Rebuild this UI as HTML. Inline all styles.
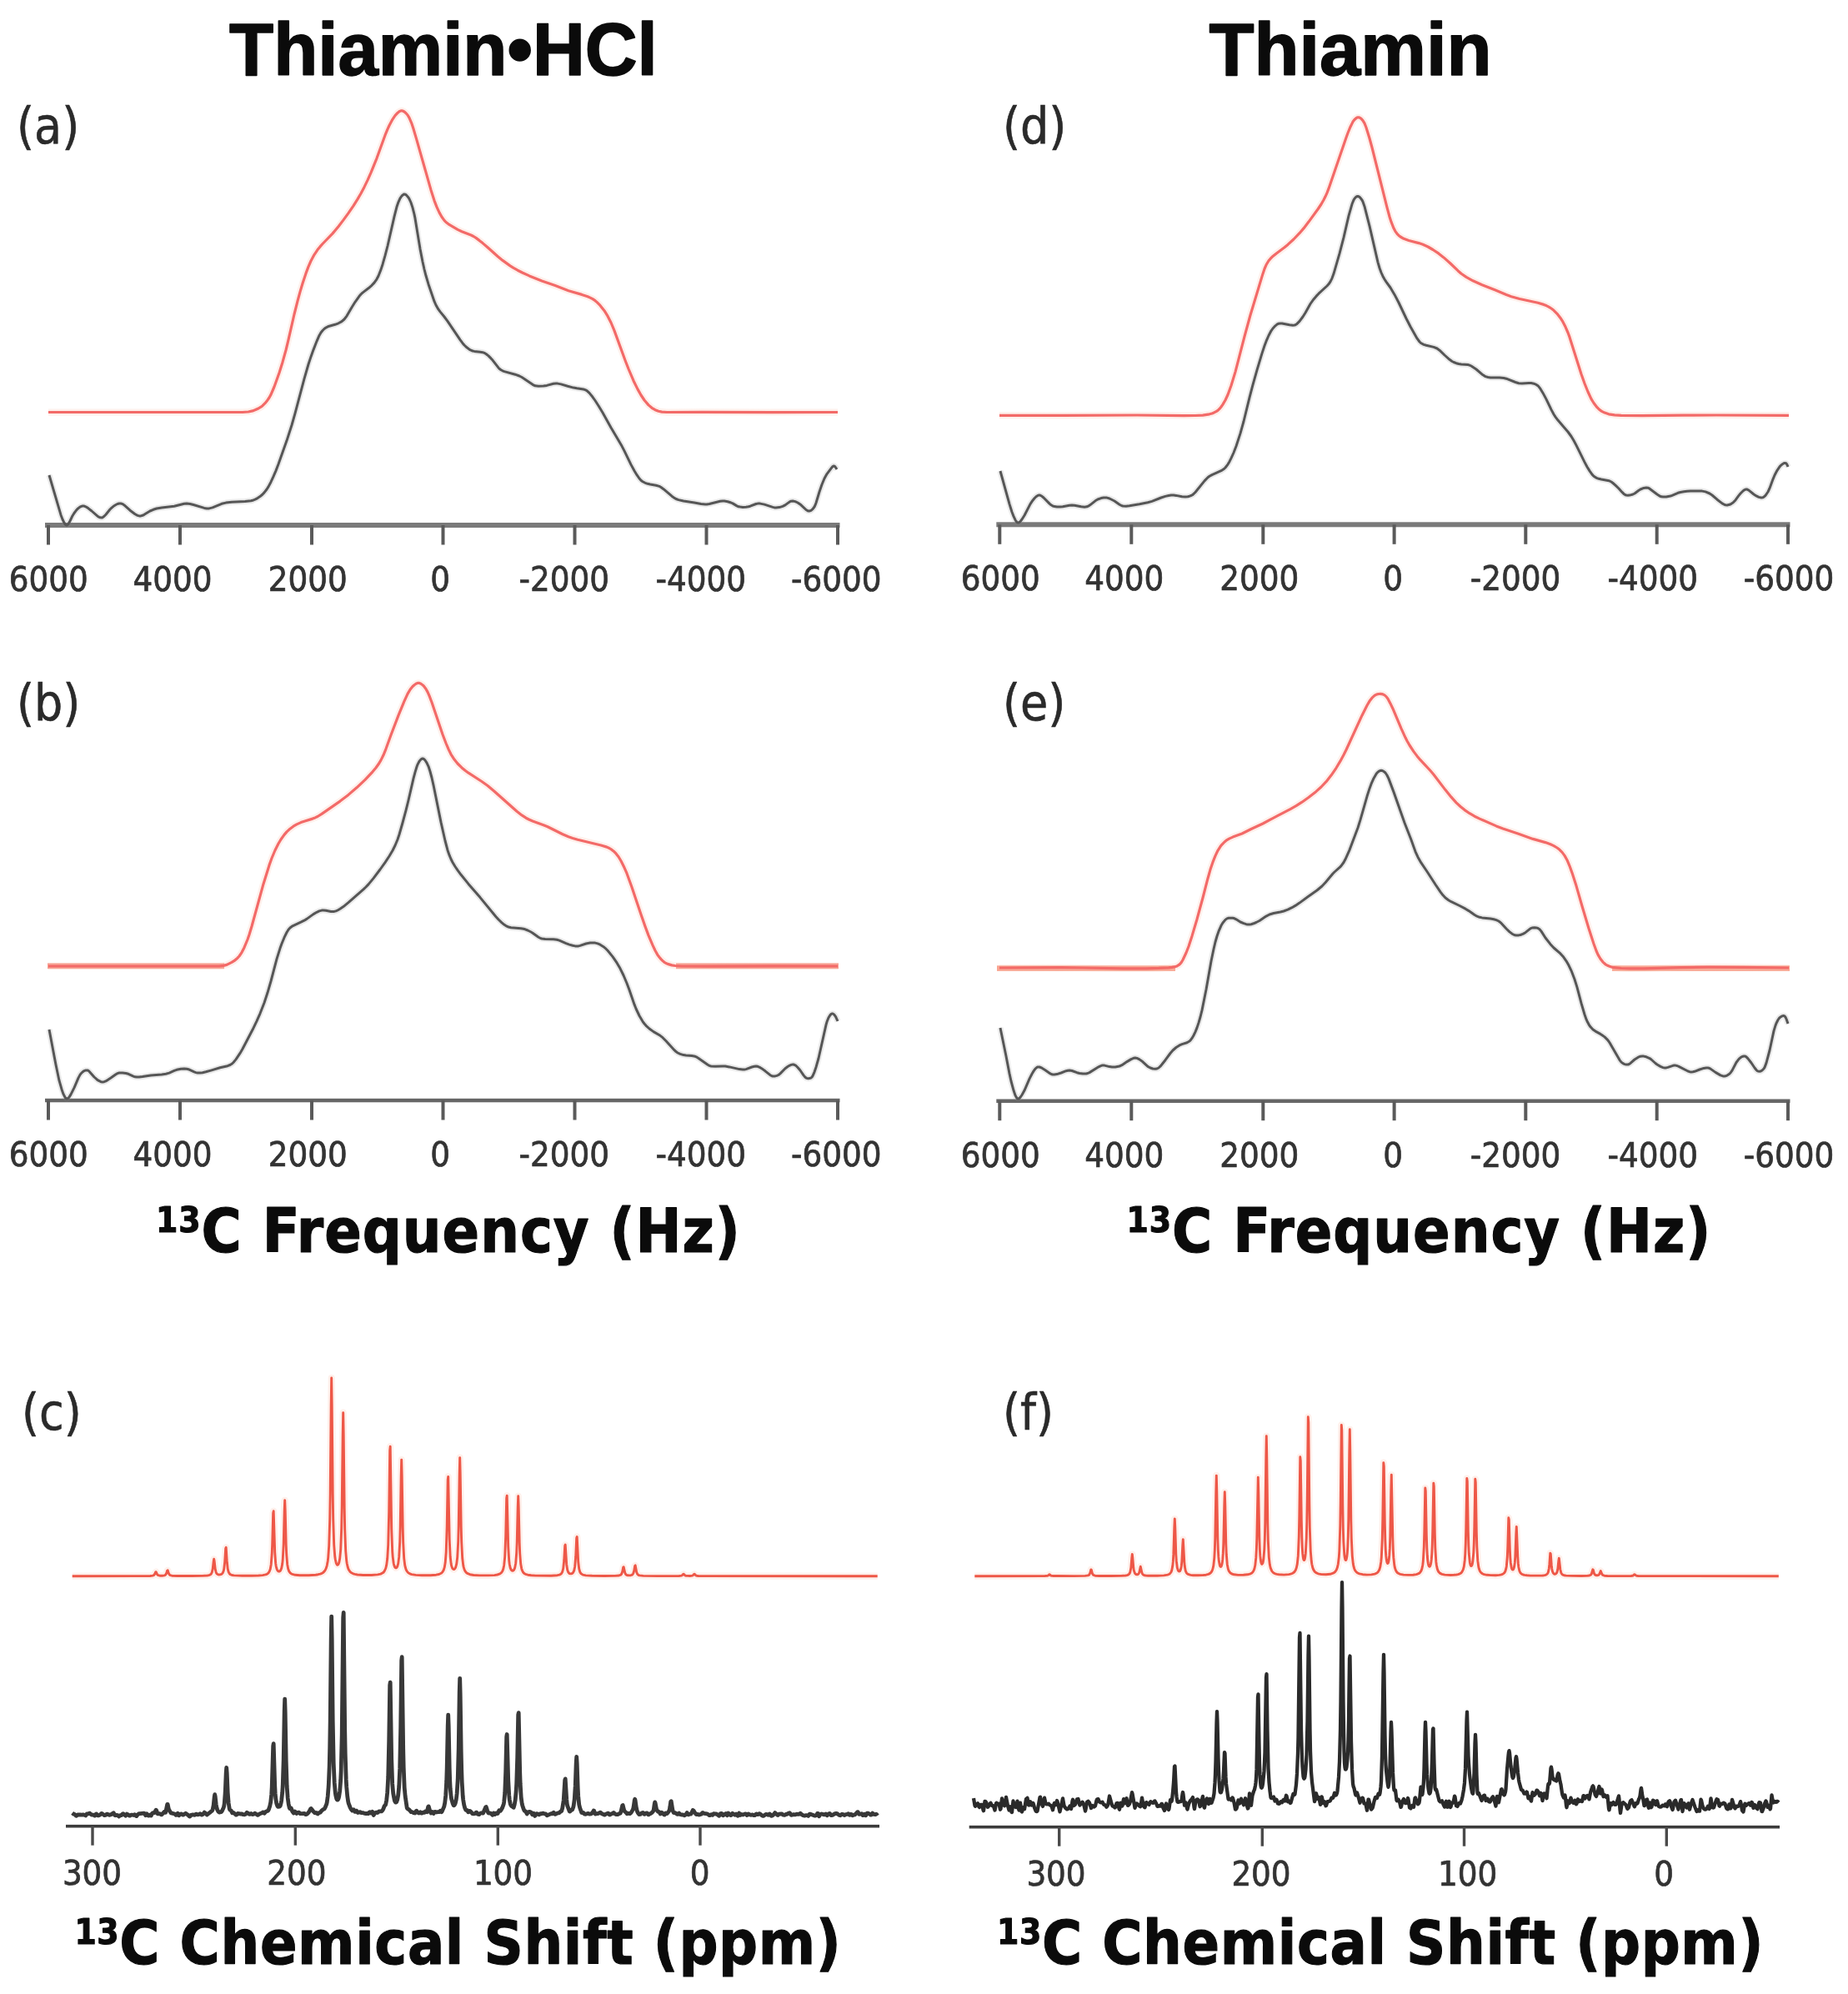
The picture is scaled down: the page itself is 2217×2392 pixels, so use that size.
<!DOCTYPE html>
<html lang="en"><head><meta charset="utf-8"><title>Thiamin 13C NMR spectra</title>
<style>
html,body{margin:0;padding:0;background:#fff}
svg{display:block;filter:blur(.55px)}
.title{font-family:"Liberation Sans",sans-serif;font-weight:700;fill:#0b0b0b;stroke:#0b0b0b;stroke-width:1.6;stroke-linejoin:round}
.axl{font-family:"DejaVu Sans Condensed","DejaVu Sans","Liberation Sans",sans-serif;font-stretch:condensed;font-weight:700;fill:#0b0b0b;stroke:#0b0b0b;stroke-width:1.1;stroke-linejoin:round}
.tk{font-family:"DejaVu Sans Condensed","DejaVu Sans","Liberation Sans",sans-serif;font-stretch:condensed;font-size:41.5px;fill:#333;stroke:#333;stroke-width:.7}
.pl{font-family:"DejaVu Sans Condensed","DejaVu Sans","Liberation Sans",sans-serif;font-stretch:condensed;font-size:60px;fill:#2a2a2a;stroke:#2a2a2a;stroke-width:.6}
.r{fill:none;stroke:#f36a68;stroke-width:3.2;stroke-linejoin:round;stroke-linecap:butt}
.rh{fill:none;stroke:#f9b9a6;stroke-opacity:.22;stroke-width:8;stroke-linejoin:round}
.k{fill:none;stroke:#565656;stroke-width:3.0;stroke-linejoin:round;stroke-linecap:butt}
.kh{fill:none;stroke:#888;stroke-opacity:.18;stroke-width:7;stroke-linejoin:round}
</style></head><body>
<svg width="2217" height="2392" viewBox="0 0 2217 2392">
<rect width="2217" height="2392" fill="#fff"/>
<rect x="54.0" y="627.0" width="953.5" height="6" fill="#7a7a7a"/>
<rect x="56.0" y="630.0" width="4" height="23.5" fill="#5a5a5a"/>
<rect x="214.0" y="630.0" width="4" height="23.5" fill="#5a5a5a"/>
<rect x="372.0" y="630.0" width="4" height="23.5" fill="#5a5a5a"/>
<rect x="529.5" y="630.0" width="4" height="23.5" fill="#5a5a5a"/>
<rect x="687.5" y="630.0" width="4" height="23.5" fill="#5a5a5a"/>
<rect x="845.5" y="630.0" width="4" height="23.5" fill="#5a5a5a"/>
<rect x="1003.0" y="630.0" width="4" height="23.5" fill="#5a5a5a"/>
<text class="tk" x="58.3" y="708.8" text-anchor="middle">6000</text>
<text class="tk" x="207.0" y="708.8" text-anchor="middle">4000</text>
<text class="tk" x="369.2" y="708.8" text-anchor="middle">2000</text>
<text class="tk" x="528.0" y="708.8" text-anchor="middle">0</text>
<text class="tk" x="676.7" y="708.8" text-anchor="middle">-2000</text>
<text class="tk" x="840.8" y="708.8" text-anchor="middle">-4000</text>
<text class="tk" x="1003.3" y="708.8" text-anchor="middle">-6000</text>
<defs><path id="p1" d="M58 494.5L291 494.5L298 494L303 492.9L306 491.8L310 490L313 488.2L315 486.7L318 483.7L320 481.3L323 477L325 473.4L329 464L335 447.2L339 434.4L343 420L346 407.7L353 377L357 361.1L360 350.1L363 340L367 327.9L370 319.9L373 313L377 305.6L381 299.6L384 295.9L387 292.5L399 280.1L406 271.8L412 263.9L418 255.6L424 246.8L429 238.9L433 232L437 224.4L441 216.1L445 207.1L452 189.8L462 162.2L465 154.8L467 150.5L471 143.1L474 138.7L477 135.4L479 133.8L481 132.9L482 132.8L483 133L485 134L487 135.7L489 138L491 141.3L494 148.4L496 154.5L500 168.1L517 227.9L521 240.6L524 248.4L527 254.9L530 260.3L533 264.4L535 266.5L538 268.8L549 275.4L554 277.8L565 282L568 283.5L571 285.4L575 288.4L579 291.6L585 296.7L597 307.5L603 312.4L612 318.9L616 321.4L621 324.2L627 327.2L635 330.9L650 337L666 342.6L682 348.7L698 353.4L705 355.8L708 357.1L711 358.7L714 360.7L716 362.4L720 366.4L725 372.7L729 379.2L733 387L737 396.6L750 432.2L754 442.5L760 456.7L765 466.9L769 474L773 480L778 485.9L782 489.3L786 491.7L790 493.3L794 494.1L800 494.5L842 494.3L927 494.6L1005 494.5"/></defs><use href="#p1" class="rh"/><use href="#p1" class="r"/>
<defs><path id="p2" d="M59 570L73 617.7L75 623L77 627.1L78 628.6L79 629.6L80 630L81 629.6L82 628.5L84 625L87 618.7L89 615.5L91 612.8L93 610.5L95 608.8L97 607.6L99 607L101 607.1L104 608.4L106 609.8L110 613L117 619.2L119 620.4L120 620.8L122 621L123 620.7L125 619.3L127 617.2L132 611L134 609.1L137 606.7L139 605.5L141 604.5L143 604L145 604L147 604.6L149 605.9L156 612.2L162 616.8L165 618.4L167 618.9L168 619L169 618.9L171 618.3L173 617.3L180 613L184 611.3L188 610L194 608.9L209 607.2L221 604.2L224 604L228 604.5L232 605.5L245 609.4L248 609.9L251 609.9L255 608.9L266 604.3L271 603.1L278 602.3L294 601.6L301 600.8L303 600.3L306 599.1L309 597.6L312 595.6L315 593L317 590.9L320 587L322 583.9L325 578.2L328 571.7L331 564.6L334 556.8L344 528.6L350 510L354 495.8L365 454.3L370 437L373 427.9L376 419.6L380 409.3L383 402.4L385 399L387 396.5L389 394.5L391 393.1L393 392L395 391.2L402 389.3L406 387.8L410 385.6L413 383L416 379.1L422 368.7L426 362.3L431 355.3L433 353L435 351.1L442 345.8L446 342.3L449 339.1L452 334.8L454 331L457 323.4L459 317.2L462 306.7L465 295L473 259.8L476 248.1L478 242.3L480 237.9L482 235L484 233.3L485 233L486 233.2L487 233.7L488 234.6L490 237L491 238.6L493 243L495 249.1L497 257L498 261.9L504 298.6L507 314L509 323L511 330.8L514 340.9L521 361.4L523 366L526 371.2L528 373.9L533 380L537 385.4L552 407.6L555 411.7L557 414L560 416.8L563 419.1L565 420.2L567 421L569 421.4L576 422.2L579 422.7L581 423.4L583 424.5L586 426.9L589 429.9L591 432.1L598 441.2L599 442.2L601 443.7L603 444.8L605 445.6L618 449.2L623 451L626 452.5L629 454.4L639 461.3L642 462.8L646 463.3L652 463.1L656 462.4L664 460.3L667 460L669 460.1L673 460.9L681 463.3L688 465.1L692 465.8L700 467L702 467.6L704 468.6L707 471.4L711 476.3L714 480.5L718 486.7L723 495.1L733 513L746 535.1L749 540.9L757 557.4L761 564.7L764 569.7L767 574L769 576.2L771 577.7L774 579.3L777 580.3L780 581L787 582.2L791 583.4L793 584.5L796 586.7L806 595.2L809 597.4L811 598.5L814 599.6L820 601L833 603L841 604.5L846 605L848 604.9L851 604.5L864 601.3L867 601L869 601.1L873 601.7L877 603L879 603.9L884 606.9L886 607.8L888 608.1L891 608.4L895 608.2L898 607.8L900 607.2L907 604.5L909 604.1L912 604.1L917 605.1L927 608.4L929 608.9L931 609L935 608.6L939 607.4L942 605.9L946 602.9L948 601.6L949 601.2L951 601L954 601.6L957 603L961 605.8L967 611.5L969 612.7L970 613L971 613L973 612.4L975 610.7L977 608L978 605.9L979 603.2L983 590L986 581.3L989 574L992 568.6L998 560.7L999 559.5L1000 559L1001 559.2L1002 560L1004 563"/></defs><use href="#p2" class="kh"/><use href="#p2" class="k"/>
<rect x="54.0" y="1317.8" width="953.5" height="4.5" fill="#666"/>
<rect x="56.0" y="1320.0" width="4" height="23.5" fill="#5a5a5a"/>
<rect x="214.0" y="1320.0" width="4" height="23.5" fill="#5a5a5a"/>
<rect x="372.0" y="1320.0" width="4" height="23.5" fill="#5a5a5a"/>
<rect x="529.5" y="1320.0" width="4" height="23.5" fill="#5a5a5a"/>
<rect x="687.5" y="1320.0" width="4" height="23.5" fill="#5a5a5a"/>
<rect x="845.5" y="1320.0" width="4" height="23.5" fill="#5a5a5a"/>
<rect x="1003.0" y="1320.0" width="4" height="23.5" fill="#5a5a5a"/>
<text class="tk" x="58.3" y="1398.8" text-anchor="middle">6000</text>
<text class="tk" x="207.0" y="1398.8" text-anchor="middle">4000</text>
<text class="tk" x="369.2" y="1398.8" text-anchor="middle">2000</text>
<text class="tk" x="528.0" y="1398.8" text-anchor="middle">0</text>
<text class="tk" x="676.7" y="1398.8" text-anchor="middle">-2000</text>
<text class="tk" x="840.8" y="1398.8" text-anchor="middle">-4000</text>
<text class="tk" x="1003.3" y="1398.8" text-anchor="middle">-6000</text>
<rect x="57" y="1155.4" width="212" height="6.8" fill="#f7a193"/><rect x="811" y="1155.4" width="195" height="6.8" fill="#f7a193"/>
<defs><path id="p3" d="M58 1159L263 1159L268 1158.4L272 1157.4L278 1154.4L282 1151.8L285 1149.2L287 1147L290 1142.6L293 1136.7L297 1127L299 1121.2L302 1111.2L316 1060.4L323 1037.9L326 1029.5L330 1020L334 1012L337 1007L341 1001.4L344 997.9L348 994.2L352 991.2L356 988.9L361 986.6L365 985.2L375 982.1L378 980.9L381 979.5L386 976.4L408 961.1L418 953.4L428 944.8L438 935.4L447 925.8L451 921L454 916.8L457 911.9L460 905.8L463 898.3L469 881.8L478 858.1L485 841.1L489 832.4L492 827.3L495 823.5L497 821.7L499 820.3L501 819.4L502 819.3L503 819.4L505 820.3L507 821.7L508 822.6L511 826.5L513 830.1L515 834.6L518 842.5L531 881L535 891.5L538 898.6L541 904.8L545 911.1L549 916L554 920.9L558 924.2L562 927.2L578 937.5L585 942.5L593 949.2L620 973.2L626 977.9L631 981.2L635 983.2L639 985L652 989.7L657 991.7L675 1000.8L682 1003.8L687 1005.5L693 1007.2L721 1014L728 1016.1L731 1017.5L734 1019.4L737 1021.8L739 1023.9L742 1027.7L745 1032.7L749 1040.8L752 1047.7L758 1064.2L769 1097.1L774 1111.4L778 1122.1L783 1133.9L786 1140.3L789 1145.6L791 1148.3L793 1150.6L795 1152.6L797 1154.3L799 1155.5L801 1156.4L806 1157.9L810 1158.5L818 1159L850 1159.2L929 1158.9L1005 1159"/></defs><use href="#p3" class="rh"/><use href="#p3" class="r"/>
<defs><path id="p4" d="M59 1235L67 1277.3L71 1296.2L74 1306.7L76 1312.4L78 1316.3L79 1317.5L80 1318L81 1317.8L82 1317.2L83 1316.1L85 1312.9L89 1304.9L94 1293.1L96 1289.4L97 1288L99 1286L101 1284.6L103 1283.9L105 1284L106 1284.4L107 1285.2L113 1292L116 1294.7L118 1296.2L121 1297.7L123 1298L125 1297.7L127 1296.9L133 1293L139 1288.7L141 1287.6L143 1287L147 1286.9L151 1287.5L154 1288.3L160 1291.1L162 1291.8L164 1292.1L167 1292.1L171 1291.6L181 1289.9L194 1288.9L199 1288.2L203 1287.1L209 1284.4L212 1283.3L217 1282.2L221 1281.9L224 1282.2L226 1282.7L233 1285.9L235 1286.6L237 1287L240 1287L243 1286.7L247 1285.8L253 1284.1L264 1280.8L273 1278.7L276 1277.5L278 1276.3L280 1274.5L283 1270.9L288 1263.4L291 1258.3L303 1235.3L308 1224.8L312 1215.8L317 1203L321 1190.8L325 1177L332 1150.4L336 1137.6L338 1132L341 1124.7L344 1118.5L346 1115.2L348 1113L351 1110.8L361 1106.2L365 1104.2L368 1102.4L376 1096.6L380 1094.3L383 1092.9L386 1092.1L388 1092L391 1092.3L397 1093.4L399 1093.5L401 1093.4L403 1092.9L405 1092L408 1090.3L412 1087.6L418 1082.7L436 1066.8L439 1064L442 1060.9L448 1053.6L456 1043L462 1034.6L467 1027L471 1020.2L474 1014.3L477 1007L479 1001L483 987L487 972.1L490 960L496 933.8L498 926.4L500 919.8L501 917.1L503 913.3L505 910.9L506 910.2L507 910L508 910.2L509 910.9L510 912L512 915.1L514 919.3L516 925.5L518 933L520 941.8L529 986.4L534 1008.5L537 1019.9L539 1025.7L541 1030.5L543 1034.5L546 1039.5L549 1043.9L553 1049.3L562 1060.4L576 1076.6L595 1099.7L598 1103L602 1106.8L605 1109.3L608 1111.2L610 1112L613 1112.7L625 1113.7L628 1114.2L630 1114.8L633 1116L637 1118L639 1119.2L646 1124.2L648 1125.3L650 1126L654 1126.6L664 1126.7L668 1127.2L671 1128.1L679 1131.6L683 1133.1L687 1134.3L690 1134.9L692 1135L694 1134.9L696 1134.4L703 1132L708 1131.1L712 1131L714 1131.1L717 1131.9L720 1133.2L724 1135.7L726 1137.3L729 1140.3L735 1147.6L740 1154.9L744 1161.8L748 1170L752 1179.5L755 1187.5L761 1204.9L763 1210L767 1218.5L771 1225.3L773 1228L775 1230.3L779 1234L784 1237.6L792 1242.3L795 1244.7L799 1248.7L809 1259.7L811 1261.6L813 1263L816 1264.4L820 1265.6L823 1266L830 1266.5L834 1267.3L836 1268.2L838 1269.5L849 1277.3L851 1278.4L853 1279L858 1279.3L867 1279L870 1279.1L875 1279.9L887 1282.6L891 1283.1L893 1283L895 1282.6L902 1280L905 1279.2L907 1279L909 1279.3L912 1280.7L915 1282.6L918 1284.8L924 1289.7L926 1290.8L927 1291L930 1290.9L932 1290.4L934 1289.5L936 1287.9L942 1281.8L945 1279.5L947 1278.3L949 1277.4L951 1277L952 1277L954 1277.8L955 1278.5L957 1280.5L960 1284L964 1289.9L966 1292.3L967 1293L968 1293.4L970 1293.7L971 1293.6L973 1293L974 1292.1L975 1290.6L977 1286.1L979 1280.2L982 1269.5L991 1229.3L992 1225.8L994 1220.8L996 1217.6L997 1216.6L998 1216L999 1216L1000 1216.5L1001 1217.5L1002 1218.8L1003 1220.6L1005 1225"/></defs><use href="#p4" class="kh"/><use href="#p4" class="k"/>
<rect x="1195.3" y="626.3" width="952.2" height="6" fill="#7a7a7a"/>
<rect x="1197.3" y="629.3" width="4" height="23.5" fill="#5a5a5a"/>
<rect x="1355.3" y="629.3" width="4" height="23.5" fill="#5a5a5a"/>
<rect x="1513.3" y="629.3" width="4" height="23.5" fill="#5a5a5a"/>
<rect x="1670.6" y="629.3" width="4" height="23.5" fill="#5a5a5a"/>
<rect x="1828.3" y="629.3" width="4" height="23.5" fill="#5a5a5a"/>
<rect x="1985.7" y="629.3" width="4" height="23.5" fill="#5a5a5a"/>
<rect x="2143.0" y="629.3" width="4" height="23.5" fill="#5a5a5a"/>
<text class="tk" x="1200.3" y="708.1" text-anchor="middle">6000</text>
<text class="tk" x="1348.7" y="708.1" text-anchor="middle">4000</text>
<text class="tk" x="1510.8" y="708.1" text-anchor="middle">2000</text>
<text class="tk" x="1671.0" y="708.1" text-anchor="middle">0</text>
<text class="tk" x="1818.0" y="708.1" text-anchor="middle">-2000</text>
<text class="tk" x="1982.7" y="708.1" text-anchor="middle">-4000</text>
<text class="tk" x="2146.0" y="708.1" text-anchor="middle">-6000</text>
<defs><path id="p5" d="M1199 498.3L1276 498.4L1364 498L1420 498.6L1434 498.5L1443 498.1L1451 496.8L1454 496L1456 495.2L1459 493.6L1461 492.3L1463 490.4L1465 488L1467 485.1L1470 480L1473 473.5L1477 462.5L1482 446.1L1493 403.6L1500 378L1515 328.4L1517 322.5L1519 317.8L1522 312.8L1524 310.4L1526 308.3L1531 304.2L1541 296.7L1545 293.4L1552 287L1559 279.7L1564 273.9L1570 266.1L1581 251L1585 245L1588 239.8L1590 235.8L1592 231.3L1594 226.2L1615 165L1617 159.5L1620 152.2L1623 146.1L1625 143.5L1627 141.7L1628 141.1L1629 140.8L1630 140.8L1631 141.1L1632 141.6L1633 142.4L1635 144.6L1637 147.9L1639 153L1643 166L1646 177L1664 248.8L1667 260L1669 266.2L1672 273.8L1674 277.6L1676 280.3L1678 282.4L1680 284L1684 286.3L1690 288.5L1702 291.6L1707 293.3L1713 296L1719 299.5L1726 304.2L1732 308.9L1740 316L1749 324.7L1753 328.2L1759 332.4L1767 336.8L1778 341.7L1794 348L1807 353.4L1813 355.7L1823 358.5L1845 363.3L1852 365.4L1855 366.6L1858 368.1L1861 370L1864 372.3L1868 376.3L1872 381.4L1875 386.2L1878 392.1L1881 399L1883 404.4L1897 448.7L1901 460L1905 470L1909 478.6L1912 483.5L1916 488.7L1918 490.7L1920 492.3L1922 493.6L1925 495.1L1930 496.8L1937 497.9L1945 498.4L1970 498.6L2020 498.1L2059 498L2146 498.3"/></defs><use href="#p5" class="rh"/><use href="#p5" class="r"/>
<defs><path id="p6" d="M1200 565L1211 604.6L1214 614.3L1216 619.4L1218 623.7L1219 625.3L1220 626.5L1221 627L1222 626.9L1223 626.4L1224 625.6L1226 623L1229 618.3L1236 604.6L1239 600.2L1241 597.7L1243 595.7L1245 594.4L1246 594.1L1247 594L1248 594.2L1250 595.3L1252 597L1259 604.1L1261 605.8L1263 607L1265 607.6L1268 608.1L1272 608.1L1275 607.7L1283 606.2L1286 606L1289 606.2L1297 607.8L1301 608.2L1304 607.8L1306 606.9L1308 605.6L1314 600.8L1317 599L1321 597.6L1324 597.1L1326 597L1328 597.1L1331 598L1337 601L1343 605.2L1345 606.3L1347 607L1351 607.2L1355 606.8L1367 604.8L1377 602.8L1382 601.4L1393 597L1398 595.4L1402 594.5L1405 594.1L1408 594L1411 594.4L1418 595.8L1422 596L1425 595.7L1427 595.2L1429 594.5L1431 593.4L1434 590.5L1445 576.9L1449 572.8L1451 571.3L1454 569.6L1465 564.7L1468 562.8L1470 561L1473 557.1L1475 553.7L1477 549.7L1480 543L1483 535.3L1488 519.9L1492 505.5L1499 476.9L1503 461.6L1508 443.8L1514 423.9L1517 414.8L1519 409.4L1522 402.5L1525 396.8L1527 394L1530 390.8L1532 389.2L1534 388.2L1536 387.9L1538 388L1547 389.8L1551 390.2L1553 390L1554 389.7L1556 388.4L1559 385.4L1563 380L1566 375.2L1572 364.5L1576 358.9L1579 355.4L1582 352.2L1592 343L1594 340.8L1596 337.8L1598 333.8L1600 328.3L1607 304.2L1612 284.9L1618 258.9L1622 244.8L1624 239.9L1625 238.3L1627 236.1L1628 235.6L1629 235.5L1630 235.8L1631 236.4L1632 237.3L1634 240L1635 242L1637 247.7L1643 271.1L1653 314.6L1655 321.5L1657 327L1659 331.4L1661 335L1663 338.1L1668 345L1673 353.4L1678 363L1687 382L1692 391.8L1700 405.9L1703 410L1705 411.8L1708 413.4L1711 414.3L1720 416.4L1724 418L1727 420.2L1733 426L1739 431.3L1742 433.5L1744 434.5L1747 435.7L1750 436.5L1753 437L1761 437.5L1763 438.1L1765 439L1771 443L1779 449.8L1782 451.6L1785 452.5L1788 452.9L1799 453.1L1804 453.5L1807 454.2L1818 458.5L1822 459.7L1826 460L1834 459.5L1837 459.6L1839 459.9L1841 460.5L1843 461.4L1845 462.8L1846 463.8L1848 466.4L1851 471.4L1855 478.9L1861 491.4L1864 497L1866 500.1L1869 504.1L1881 518L1885 523.5L1888 528.5L1891 534.1L1901 554.4L1904 560L1907 564.9L1910 569.1L1912 571.2L1914 572.6L1916 573.6L1918 574.3L1921 575L1929 576.4L1931 577L1933 578L1935 579.5L1938 582.1L1942 586L1946 590.4L1948 592.4L1950 593.7L1951 594L1953 594.2L1955 594.1L1959 593L1961 592L1966 588.2L1968 587L1972 585.4L1975 584.9L1977 585.2L1979 586.2L1988 593L1991 595L1993 595.8L1995 596.1L1999 596L2004 595L2006 594.3L2013 591.3L2016 590.5L2020 589.7L2024 589.2L2028 589L2036 588.9L2042 589.1L2046 589.9L2051 592L2054 594L2060 599.2L2066 603.9L2069 605.5L2070 605.8L2072 606L2075 605.3L2077 604.3L2079 603L2080 602.1L2082 599.9L2086 594.4L2088 592L2091 589L2093 587.6L2094 587.2L2095 587L2096 587.1L2098 588.1L2104 593L2107 594.9L2110 596.4L2113 597L2115 596.7L2116 596.2L2118 594.3L2121 590L2123 585.7L2127 574.8L2129 570L2132 564.3L2135 559.9L2137 557.8L2138 557L2140 555.8L2141 555.5L2142 555.6L2143 556L2144 557.6L2145 560"/></defs><use href="#p6" class="kh"/><use href="#p6" class="k"/>
<rect x="1195.3" y="1318.5" width="952.2" height="4.5" fill="#666"/>
<rect x="1197.3" y="1320.7" width="4" height="23.5" fill="#5a5a5a"/>
<rect x="1355.3" y="1320.7" width="4" height="23.5" fill="#5a5a5a"/>
<rect x="1513.3" y="1320.7" width="4" height="23.5" fill="#5a5a5a"/>
<rect x="1670.6" y="1320.7" width="4" height="23.5" fill="#5a5a5a"/>
<rect x="1828.3" y="1320.7" width="4" height="23.5" fill="#5a5a5a"/>
<rect x="1985.7" y="1320.7" width="4" height="23.5" fill="#5a5a5a"/>
<rect x="2143.0" y="1320.7" width="4" height="23.5" fill="#5a5a5a"/>
<text class="tk" x="1200.3" y="1399.5" text-anchor="middle">6000</text>
<text class="tk" x="1348.7" y="1399.5" text-anchor="middle">4000</text>
<text class="tk" x="1510.8" y="1399.5" text-anchor="middle">2000</text>
<text class="tk" x="1671.0" y="1399.5" text-anchor="middle">0</text>
<text class="tk" x="1818.0" y="1399.5" text-anchor="middle">-2000</text>
<text class="tk" x="1982.7" y="1399.5" text-anchor="middle">-4000</text>
<text class="tk" x="2146.0" y="1399.5" text-anchor="middle">-6000</text>
<rect x="1196" y="1158.3" width="214" height="6.6" fill="#f9a692"/><rect x="1934" y="1158.3" width="213" height="6.6" fill="#f9a692"/>
<defs><path id="p7" d="M1199 1161L1273 1160.7L1299 1161L1348 1161.8L1375 1161.8L1390 1161.4L1402 1160.8L1406 1160.3L1410 1159.6L1412 1158.9L1414 1157.7L1416 1156L1417 1154.8L1419 1151.5L1423 1143L1426 1135.2L1430 1122.9L1436 1102.7L1443 1077L1449 1053.7L1452 1043.1L1455 1034.2L1458 1026.6L1461 1020.3L1464 1015.6L1466 1013.1L1469 1010L1472 1007.6L1475 1005.9L1479 1004.1L1490 1000L1501 994.5L1515 988L1534 977.8L1548 970.6L1555 966.7L1562 962.2L1570 956.5L1579 949.4L1585 944L1591 937.7L1597 930.1L1603 921.3L1608 912.9L1612 905.5L1615 899.5L1634 858.2L1640 846.2L1643 841.1L1646 837.2L1649 834.4L1650 833.8L1652 832.9L1654 832.5L1656 832.3L1658 832.6L1659 832.9L1661 833.9L1663 835.6L1665 838.3L1668 843.9L1671 850.2L1681 873.8L1686 884.8L1688 888.7L1691 894L1696 901.6L1700 906.9L1704 911.7L1716 924.5L1720 929.2L1734 947.6L1741 956.2L1747 962.8L1752 967.5L1757 971.6L1763 975.7L1769 979.2L1775 982.1L1795 990.9L1803 994.1L1821 1000L1839 1006.4L1854 1010.6L1860 1012.8L1864 1014.6L1868 1017L1871 1019.3L1874 1022.4L1877 1026.4L1880 1031.7L1883 1038.8L1886 1047.1L1891 1062.6L1898 1087L1906 1113.7L1912 1132.2L1915 1140.5L1917 1145.1L1920 1150.2L1923 1154.1L1926 1156.8L1928 1158L1931 1159.3L1934 1160.3L1936 1160.7L1945 1161.5L1956 1161.9L1972 1161.8L2016 1160.6L2050 1160.1L2091 1160.3L2146 1161"/></defs><use href="#p7" class="rh"/><use href="#p7" class="r"/>
<defs><path id="p8" d="M1200 1233L1207 1267L1211 1287.9L1213 1297L1216 1308.1L1218 1313.9L1219 1315.9L1220 1317.4L1221 1318L1222 1317.9L1223 1317.4L1224 1316.4L1226 1313.5L1229 1308.1L1235 1294.1L1238 1288.2L1240 1284.9L1242 1282.1L1244 1280.4L1245 1280L1247 1280L1250 1281.2L1254 1283.7L1260 1287.9L1262 1288.8L1263 1289L1265 1289L1268 1288.6L1273 1287L1279 1284.7L1281 1284.2L1283 1284L1286 1284.5L1292 1286.7L1295 1287.5L1299 1288L1303 1288L1305 1287.5L1307 1286.6L1318 1279.8L1320 1278.8L1322 1278.1L1323 1278L1325 1278.1L1331 1279.6L1334 1280.1L1338 1280L1343 1279L1346 1277.7L1352 1273.6L1357 1270.6L1360 1269.3L1362 1269L1364 1269.4L1367 1270.9L1371 1273.8L1377 1279.4L1380 1281L1383 1282L1386 1282.3L1388 1282L1390 1281L1392 1279.2L1394 1276.8L1398 1271.7L1404 1263.5L1407 1260L1411 1256.5L1415 1253.9L1418 1252.6L1424 1250.8L1427 1249L1428 1248.1L1430 1245.4L1432 1242L1434 1237.9L1436 1232.9L1438 1226.9L1440 1220L1442 1211.9L1447 1187L1453 1153L1456 1138.5L1458 1130L1460 1123L1462 1117.2L1465 1110.3L1467 1107L1470 1103.4L1472 1101.9L1474 1101.3L1477 1101.2L1479 1101.3L1481 1101.8L1483 1102.8L1488 1106L1492 1107.7L1495 1108.7L1497 1109L1499 1109L1501 1108.7L1504 1107.8L1507 1106.5L1511 1104.5L1519 1099.1L1523 1097L1528 1095.5L1536 1094L1540 1093L1545 1091.2L1550 1088.7L1554 1086.4L1559 1083.1L1569 1075.7L1580 1068L1586 1063L1590 1058.8L1599 1048L1601 1046L1607 1040.7L1609 1038.6L1612 1034.5L1614 1030.8L1619 1019.6L1629 993L1632 983.4L1640 955.3L1643 945.9L1645 940.4L1648 933.7L1651 928.5L1652 927.2L1654 925.4L1656 924.4L1657 924.3L1658 924.4L1660 925.3L1662 927L1664 930L1666 934.1L1672 950.1L1685 987L1693 1007.5L1698 1021.6L1701 1028.2L1705 1035.2L1712 1045.5L1722 1061L1728 1069.8L1731 1073.8L1734 1077L1738 1080L1741 1081.7L1751 1086.5L1758 1090.2L1762 1092.6L1769 1097.5L1772 1099.2L1775 1100.3L1778 1100.9L1788 1102L1792 1102.7L1795 1103.6L1798 1105L1801 1107.4L1807 1114L1811 1117.8L1814 1120.2L1817 1121.8L1819 1122.1L1822 1121.9L1824 1121.5L1827 1120.4L1830 1118.7L1836 1113.9L1838 1113L1841 1112.7L1843 1112.9L1845 1113.5L1847 1114.7L1849 1117.1L1854 1125L1860 1132.7L1864 1137L1872 1143.9L1875 1147.2L1879 1152.8L1882 1158.1L1885 1164.3L1889 1174.8L1892 1184.4L1897 1203.4L1901 1217L1903 1222.7L1904 1225L1906 1228.8L1908 1231.8L1911 1235L1914 1237.1L1920 1240.4L1922 1241.7L1925 1243.9L1928 1246.8L1930 1249.3L1932 1252.4L1943 1271.6L1945 1274.1L1947 1275.7L1949 1276.6L1951 1277.1L1953 1277L1954 1276.7L1956 1275.4L1961 1271L1965 1268.4L1968 1267.2L1970 1267L1972 1267.1L1975 1267.8L1979 1269.6L1981 1271L1986 1275.5L1988 1277L1992 1279.4L1995 1280.6L1997 1281L1999 1280.9L2001 1280.4L2007 1278.3L2009 1278L2010 1278.1L2012 1278.5L2014 1279.4L2025 1285L2027 1285.7L2029 1286L2031 1285.8L2033 1285.3L2039 1283L2044 1281.4L2047 1280.9L2049 1281L2050 1281.2L2052 1282.1L2058 1286.4L2064 1289.9L2067 1290.9L2069 1291L2070 1290.8L2072 1290.1L2074 1288.8L2076 1287L2078 1284.1L2083 1274.5L2085 1271.8L2087 1269.6L2089 1268L2090 1267.5L2092 1267L2093 1267L2094 1267.3L2095 1267.9L2097 1269.9L2101 1275L2105 1281L2107 1283.5L2108 1284.5L2109 1285L2111 1285.2L2112 1285.1L2114 1284L2116 1282L2117 1280.4L2119 1275.1L2123 1260L2128 1236.6L2130 1230.1L2131 1227.5L2133 1223.5L2134 1222L2135 1220.8L2136 1220L2138 1218.9L2139 1218.6L2140 1218.6L2141 1219L2142 1220.2L2143 1222.3L2145 1228"/></defs><use href="#p8" class="kh"/><use href="#p8" class="k"/>
<defs><path id="p9" d="M86.7 1890.7L164.7 1890.6L180.2 1890.5L183.2 1890.1L184.7 1889.5L185.7 1888.2L186.7 1885.9L187.2 1885.7L188.7 1888.8L189.7 1889.7L191.7 1890.2L194.7 1890.2L197.2 1889.9L198.7 1889L199.7 1887.2L200.7 1884L201.2 1883.8L202.2 1887L203.2 1888.9L204.2 1889.7L206.2 1890.2L212.7 1890.5L230.2 1890.5L242.7 1890.4L248.7 1890L250.7 1889.6L252.2 1889L253.2 1888.2L254.2 1886.4L255.2 1882.2L256.2 1873.1L256.7 1870.3L257.2 1873.1L258.2 1882.1L259.2 1886.2L260.2 1887.9L261.2 1888.6L262.7 1889L264.2 1888.9L265.7 1888.4L266.7 1887.5L267.2 1886.9L268.2 1884.5L268.7 1882.4L269.7 1873.6L270.7 1857.3L271.2 1856.3L272.2 1872.2L273.2 1881.9L274.2 1885.8L275.2 1887.6L276.2 1888.6L278.2 1889.5L280.7 1889.9L290.7 1890.3L301.7 1890.3L310.2 1890L315.2 1889.6L318.7 1888.9L320.2 1888.3L321.2 1887.6L322.2 1886.7L323.2 1885.1L324.2 1882.4L325.2 1876.9L326.2 1864.2L326.7 1852L327.7 1815.1L328.2 1812.7L329.7 1861.8L330.7 1875.4L331.2 1878.8L332.2 1882.5L332.7 1883.6L333.7 1884.7L334.2 1885L335.2 1885L336.2 1884.3L336.7 1883.6L337.7 1881.2L338.7 1876.1L339.2 1871.5L340.2 1852.8L341.2 1812.2L341.7 1799.8L342.2 1812.3L343.2 1853L343.7 1864.7L344.7 1876.7L345.7 1882L346.7 1884.8L348.2 1886.9L349.2 1887.7L350.7 1888.4L354.2 1889.3L359.7 1889.7L370.2 1889.7L378.7 1889.2L381.7 1888.7L384.2 1888.1L386.2 1887.3L387.7 1886.4L389.2 1884.9L390.2 1883.5L391.2 1881.4L392.2 1878.1L393.2 1872.7L393.7 1868.6L394.7 1854.6L395.7 1823L396.2 1792.5L397.2 1685.6L397.7 1653L398.2 1685.4L399.2 1791.9L399.7 1822.1L400.7 1853.1L401.7 1866.5L402.2 1870.3L403.2 1874.8L404.2 1876.9L404.7 1877.2L405.2 1877.2L405.7 1876.8L406.7 1874.6L407.7 1869.6L408.7 1858.8L409.7 1833.5L410.2 1808.7L411.2 1721.2L411.7 1694.6L412.2 1721.5L413.2 1809.5L413.7 1834.6L414.7 1860.5L415.7 1872.1L416.2 1875.5L417.2 1880L418.2 1882.7L419.7 1885.1L421.2 1886.5L423.7 1887.8L425.7 1888.4L428.7 1889L435.7 1889.5L445.7 1889.5L453.2 1888.9L456.7 1888.1L459.2 1886.8L460.2 1886L461.2 1884.7L462.7 1881.5L463.7 1877.4L464.7 1869.8L465.7 1853.6L466.7 1813.6L467.7 1739.9L468.2 1735.2L469.7 1833.5L470.7 1860.8L471.2 1867.6L472.2 1875.2L472.7 1877.4L473.7 1879.9L474.7 1880.9L475.2 1880.9L475.7 1880.6L476.7 1879.1L477.7 1875.6L478.7 1867.9L479.7 1849.9L480.2 1832.2L481.2 1770.1L481.7 1751.1L482.2 1770.3L483.2 1832.8L483.7 1850.7L484.7 1869.1L485.7 1877.4L486.2 1879.8L487.2 1883L488.2 1884.9L489.7 1886.6L491.2 1887.6L493.7 1888.6L498.7 1889.4L506.2 1889.8L516.2 1889.7L523.2 1889.2L526.7 1888.5L529.2 1887.3L530.7 1886L532.2 1883.5L533.2 1880.4L534.2 1874.6L535.2 1862.1L536.2 1831.4L537.2 1775L537.7 1771.4L539.2 1846.6L540.2 1867.5L541.2 1876.1L541.7 1878.5L542.7 1881.2L543.7 1882.4L544.7 1882.6L545.7 1881.9L546.7 1880L547.7 1876.2L548.7 1868.1L549.7 1849.6L550.2 1831.5L551.2 1767.9L551.7 1748.6L552.2 1768.1L553.2 1831.9L553.7 1850.2L554.7 1869L555.7 1877.4L556.2 1879.9L557.2 1883.1L558.2 1885L559.7 1886.7L561.2 1887.7L563.7 1888.7L568.2 1889.5L575.2 1889.9L585.7 1889.9L593.2 1889.6L596.7 1889L599.2 1888.2L601.2 1886.9L602.7 1884.9L603.7 1882.4L604.7 1877.7L605.7 1867.6L606.7 1842.8L607.7 1797.1L608.2 1794.2L609.7 1855.1L610.7 1872L611.2 1876.2L612.2 1880.9L613.2 1883.2L614.2 1884.1L615.2 1884.3L616.2 1883.7L617.2 1882L617.7 1880.5L618.7 1875.2L619.7 1862.8L620.2 1850.6L621.2 1807.8L621.7 1794.7L622.2 1807.9L623.2 1851L623.7 1863.3L624.7 1876L625.7 1881.6L626.2 1883.3L627.2 1885.5L628.2 1886.8L629.7 1888L631.2 1888.7L633.2 1889.2L637.2 1889.8L642.7 1890.1L661.2 1890.2L668.7 1889.7L671.2 1889.1L672.7 1888.3L673.7 1887.4L674.7 1885.5L675.7 1881.6L676.7 1872L677.7 1854.3L678.2 1853.1L679.7 1876.7L680.7 1883.3L681.7 1886L682.2 1886.7L683.2 1887.6L684.2 1887.9L685.2 1887.9L686.7 1887.3L687.7 1886.2L688.7 1884.1L689.7 1879.2L690.7 1867.2L691.7 1844.9L692.2 1843.5L693.7 1873.5L694.7 1881.9L695.7 1885.5L696.2 1886.5L697.2 1887.8L699.2 1889.1L702.7 1889.9L710.2 1890.3L724.7 1890.5L737.7 1890.4L742.7 1890L744.7 1889.2L745.7 1888L746.7 1885.2L747.7 1880.1L748.2 1879.8L749.7 1886.6L750.7 1888.5L751.7 1889.3L753.2 1889.8L755.2 1889.9L756.7 1889.7L757.7 1889.4L758.7 1888.9L759.7 1887.5L760.7 1884.3L761.7 1878.3L762.2 1877.9L763.7 1886L764.7 1888.3L765.7 1889.3L767.2 1889.9L771.7 1890.4L789.2 1890.6L814.7 1890.5L817.7 1890.1L818.7 1889.4L819.7 1888.3L820.2 1888.2L821.7 1889.8L822.7 1890.2L824.7 1890.4L827.7 1890.5L830.7 1890.1L831.7 1889.4L832.7 1888.3L833.2 1888.2L834.7 1889.8L835.7 1890.2L837.7 1890.5L842.2 1890.6L1052.7 1890.7"/></defs><use href="#p9" class="rh"/><use href="#p9" class="r" style="stroke-width:2.9;stroke:#ee5747"/>
<path class="k" style="stroke-width:4.8;stroke:#383838" d="M86.7 2174.9L88.2 2176.1L89.7 2176.5L91.2 2178.2L91.7 2178.3L93.2 2176.9L94.7 2177L96.2 2176.8L97.7 2177.2L99.7 2176.8L101.2 2177.2L102.7 2178L104.2 2175.9L105.7 2175.8L107.2 2175.1L107.7 2175.2L109.2 2176.6L110.7 2177.1L112.2 2177.2L113.7 2178.1L114.2 2177.7L115.2 2176.1L115.7 2175.9L117.2 2177.8L118.7 2177.8L120.2 2176.9L121.7 2175.4L122.2 2175.4L125.2 2177.7L126.7 2177.4L128.2 2176.1L131.2 2177.3L131.7 2177.3L133.2 2176.8L136.2 2174.7L137.7 2177.5L138.2 2177.8L139.7 2177.3L141.2 2177.6L142.7 2179.1L144.2 2177.7L145.7 2177.6L147.2 2175.9L147.7 2175.7L150.7 2178.2L152.2 2176.1L153.7 2176.9L155.2 2178.1L155.7 2178.2L157.2 2177.2L158.7 2177.2L160.2 2177.5L161.7 2176.7L162.2 2177L163.2 2178.4L163.7 2178.6L165.2 2176.8L166.7 2175.6L168.2 2175.7L172.7 2175.2L173.2 2175.3L174.7 2177.7L176.2 2175.8L177.7 2178L178.2 2178.1L179.2 2177.3L179.7 2177.2L180.7 2178L181.2 2178.1L182.7 2175.1L184.2 2174.4L185.2 2174.6L185.7 2174.4L186.7 2171.9L187.2 2171.2L187.7 2171.8L188.7 2174.9L189.2 2175.9L190.7 2175.7L192.2 2175.9L193.7 2176.9L194.2 2176.7L197.2 2173.4L198.2 2174.3L198.7 2174.3L200.7 2164.5L201.2 2164.5L202.2 2169.4L202.7 2170.9L204.7 2174.3L205.2 2174.9L209.7 2176L211.2 2177.4L211.7 2177.4L212.7 2175.7L213.2 2175.2L214.7 2177.8L216.2 2176.3L216.7 2176.1L217.7 2175.9L219.2 2177L219.7 2177.2L222.7 2175.3L224.2 2176.4L225.7 2177.3L227.2 2179L227.7 2179.1L229.2 2177.4L230.7 2177L232.2 2177L233.7 2177.3L235.2 2176.3L235.7 2176.1L237.2 2176.9L238.7 2176.5L240.2 2175.7L241.7 2177L242.2 2177L243.2 2176.6L243.7 2176.2L245.2 2174.1L246.7 2175.2L248.2 2177L251.7 2174.4L253.2 2173L254.2 2172.4L254.7 2171.8L255.2 2170.5L256.2 2165.4L257.2 2155.4L257.7 2152.7L258.2 2155.1L259.2 2164.3L259.7 2167.3L260.7 2171L261.7 2172.9L262.7 2174L263.7 2174L265.2 2173.6L265.7 2173.4L266.2 2172.7L268.2 2168.4L268.7 2166.7L269.2 2163.6L270.2 2150.5L271.2 2126.9L271.7 2120.5L272.2 2126.7L273.2 2150.1L274.2 2163L275.2 2169.4L275.7 2170.9L276.2 2171.3L277.2 2171.8L278.7 2174.9L280.2 2174.5L283.2 2177.1L283.7 2177.1L285.2 2175.5L286.7 2175.6L288.2 2176L289.7 2175.8L291.7 2176.7L293.2 2176.8L294.7 2176.2L296.2 2174.3L297.7 2175.1L299.2 2176.3L299.7 2176.4L301.2 2175.5L302.7 2176.5L304.2 2176.4L305.7 2175.2L306.2 2175.3L307.7 2176.5L309.2 2177.4L312.2 2175.5L313.7 2175.2L315.2 2174L315.7 2174L316.7 2175L317.2 2175.2L318.7 2173.4L321.2 2172.3L321.7 2171.9L322.2 2171.1L323.7 2166.8L324.7 2162.1L325.7 2152.7L326.2 2144.1L327.7 2094.4L328.2 2091.7L329.7 2141.6L330.2 2151.2L330.7 2157L331.7 2163.2L332.7 2166.3L333.2 2167.1L333.7 2167.4L335.2 2167.2L335.7 2166.9L336.2 2166.4L337.2 2162.7L337.7 2159.8L338.7 2150.6L339.2 2142.5L340.2 2111.1L341.2 2053.1L341.7 2038.2L342.2 2054.3L343.2 2112.4L344.2 2143L345.2 2157L346.2 2164.2L347.2 2168.6L347.7 2169.5L348.7 2168.9L349.2 2168.8L350.7 2172.8L352.2 2175L353.7 2173L354.2 2173.4L355.2 2175.1L355.7 2175.5L357.2 2174.4L358.7 2174.2L360.2 2175.7L363.2 2175.7L365.2 2175.4L366.7 2176.7L368.2 2176.2L369.7 2174.8L370.7 2173.5L372.7 2169.7L373.2 2169.5L374.7 2171.3L375.7 2172.8L377.7 2174.7L378.2 2174.8L379.2 2174.5L379.7 2174.6L380.7 2175.7L381.2 2176L382.7 2174.6L384.2 2174.2L385.7 2172.3L387.2 2170.9L388.7 2170.2L389.2 2169.8L390.2 2168L391.7 2164.3L392.2 2162.4L393.2 2155L394.2 2142.5L395.2 2118.4L395.7 2097L396.2 2064.8L397.2 1965.5L397.7 1939.1L398.2 1965.9L399.2 2064L400.2 2115L401.2 2138.4L402.2 2149.9L402.7 2153.4L403.7 2157.7L404.2 2158.7L404.7 2159.1L405.2 2159.1L405.7 2158.4L406.2 2157.1L406.7 2155.2L407.7 2148.5L408.7 2135.3L409.2 2124.1L410.2 2081.4L411.7 1940.2L412.2 1934.5L413.7 2075L414.2 2103.2L415.2 2134.4L415.7 2143.2L416.7 2154.4L417.7 2161.3L418.2 2163.4L420.2 2168.5L421.2 2170.4L422.7 2172L424.2 2170.7L425.7 2173.4L426.2 2173.3L427.2 2172.1L427.7 2172.2L429.2 2174.5L430.7 2174.2L432.2 2173.6L433.7 2174.7L435.7 2174.6L437.2 2175.3L438.2 2175.5L438.7 2175.5L440.2 2175.3L441.7 2175.7L443.2 2173.9L443.7 2173.7L444.7 2174.8L445.2 2175.1L446.7 2173.4L448.2 2177.4L449.7 2175L450.2 2174.6L451.2 2174.1L451.7 2174.1L452.7 2174.5L453.2 2174.4L454.7 2172.8L457.7 2172.9L458.2 2172.5L459.2 2171.2L459.7 2170.3L461.2 2166.3L462.2 2165.5L462.7 2164.6L463.7 2159.6L464.7 2150.5L465.7 2132L466.7 2088.9L467.7 2021.6L468.2 2018.1L469.7 2110.1L470.7 2139.7L471.7 2151.3L473.2 2159.2L473.7 2160.8L474.2 2161.7L474.7 2162.1L475.2 2162.1L475.7 2161.6L476.7 2159L477.7 2153.5L478.7 2143L479.7 2121.9L480.7 2071.9L481.7 1992L482.2 1987.7L483.7 2097.7L484.2 2120L485.2 2144.6L486.2 2155.2L488.2 2168.6L488.7 2169.5L491.2 2171.3L493.2 2173.7L494.7 2173.7L496.2 2174.6L497.7 2175L499.2 2172.5L499.7 2172.3L501.2 2174.3L502.2 2174.8L502.7 2175L504.2 2173.8L505.7 2175.2L506.2 2175.1L507.2 2174.3L507.7 2174.2L508.7 2174.4L509.2 2174.3L510.7 2172.7L511.7 2173.6L512.2 2173.7L513.7 2167.2L514.2 2166.9L515.7 2172.2L516.7 2174.5L517.2 2175L518.7 2173.6L520.2 2175.5L521.7 2173.3L522.2 2173.3L523.2 2173.9L523.7 2174L525.2 2173.6L526.7 2173.7L528.2 2172.3L529.7 2173.7L530.2 2173.1L532.7 2167.4L533.7 2162.8L534.7 2154L535.7 2136.5L536.2 2120.6L537.2 2070.7L537.7 2057.2L538.2 2070.5L539.2 2120.5L539.7 2136.1L540.2 2145.6L541.2 2155.5L541.7 2158.4L543.2 2163.5L544.2 2165.8L544.7 2165.8L545.2 2165.3L546.2 2163.4L547.2 2159.3L548.2 2151.2L549.2 2134.7L550.2 2097.8L551.2 2030.6L551.7 2013.3L552.2 2032.7L553.2 2100.9L553.7 2122.9L554.2 2137.6L555.2 2154.3L555.7 2159.1L556.7 2165.1L557.7 2168.8L558.7 2171.2L559.2 2171.4L560.2 2171.3L561.7 2173.8L562.2 2173.7L563.2 2172.5L563.7 2172.4L565.2 2173.6L566.7 2175.7L568.2 2175.9L569.7 2175.7L571.2 2174.1L571.7 2174.2L573.2 2176.2L574.7 2176.7L576.2 2175.3L577.7 2174.8L579.2 2175.2L579.7 2174.7L582.7 2167.8L583.2 2167.5L584.7 2172.3L585.7 2174.7L586.2 2175L587.7 2175L588.7 2175.2L589.2 2175.5L590.7 2177.3L592.2 2174.9L593.7 2176.6L594.2 2176.3L595.2 2175.1L595.7 2174.9L596.7 2175.6L597.2 2175.4L598.7 2171.8L600.2 2172.4L601.2 2171.2L602.7 2168.5L604.2 2164.2L604.7 2161.6L605.7 2151L606.7 2125.5L607.7 2083.5L608.2 2080.5L609.7 2134.8L610.7 2153.5L611.2 2158.6L612.2 2163.8L612.7 2165.1L613.7 2166.6L614.7 2167.1L615.7 2168.1L616.2 2168.3L617.2 2164.9L618.2 2159.1L619.2 2148.3L619.7 2139.7L620.7 2108.2L621.7 2057.1L622.2 2054.7L623.7 2126L624.2 2140L625.2 2156.1L626.2 2163.7L626.7 2165.7L628.2 2170.2L629.2 2172.3L630.7 2172.9L632.2 2176L633.7 2173.8L635.2 2173.4L636.7 2173.8L637.2 2174.2L638.7 2176.8L640.2 2175.3L641.7 2178.4L642.2 2178L643.2 2176L643.7 2175.6L645.2 2176L646.7 2176.9L648.2 2175.6L649.7 2175.8L651.2 2175.2L651.7 2175.2L653.2 2175.9L654.7 2175.9L656.2 2177.9L660.7 2175.8L661.2 2175.7L662.7 2175.8L664.2 2174.3L665.7 2176.3L666.2 2176.4L669.2 2174.9L670.7 2174.9L672.2 2173.3L673.2 2172.9L673.7 2172.5L674.7 2169.1L676.2 2159.5L677.7 2135.4L678.2 2133.9L679.7 2158.2L680.2 2163.4L680.7 2166.1L683.2 2172.8L683.7 2173.1L685.2 2171.5L686.2 2171.2L686.7 2170.8L687.7 2168L688.2 2165.9L689.2 2158.4L690.2 2142.7L691.2 2114.8L691.7 2107.3L692.2 2115.3L693.2 2144.9L693.7 2154.4L694.7 2164.7L695.7 2168.8L697.7 2174.4L698.2 2174.6L699.2 2174.2L699.7 2174.4L701.2 2176.1L702.7 2176.3L705.7 2175.3L707.2 2176.1L707.7 2176.2L708.7 2176L709.7 2175.5L710.7 2174.5L711.2 2173.9L712.2 2172L712.7 2172.2L713.7 2175.4L714.2 2176.1L715.7 2175.7L717.2 2175.7L720.2 2174.1L721.7 2175.5L725.2 2177.2L726.7 2176.2L729.7 2175.1L731.2 2176.9L731.7 2177L733.2 2176L734.7 2175.5L736.2 2174.4L737.7 2175.8L739.2 2176.6L741.2 2176.5L743.7 2175.4L744.2 2175.1L745.2 2172.4L746.7 2165.8L747.2 2165.5L748.7 2171.5L749.2 2172.6L749.7 2173.2L750.7 2173.9L752.2 2175.9L753.7 2175.2L755.2 2175.6L755.7 2175.6L757.2 2174.4L759.2 2170.9L759.7 2169.5L760.2 2167.1L761.2 2159.8L761.7 2158.2L762.2 2160.2L763.2 2167.6L764.2 2172.2L765.2 2174.5L766.7 2176.5L768.2 2176.4L769.7 2175L771.2 2174.4L771.7 2174.7L772.7 2176.1L773.2 2176.4L774.7 2175.1L776.2 2174.9L777.7 2176.9L778.2 2176.8L779.2 2176L780.7 2175.4L781.7 2174.8L783.2 2173.3L783.7 2172.5L784.2 2171L785.2 2164L785.7 2161.9L786.2 2163.2L787.2 2168.6L787.7 2170.4L788.7 2172.6L789.2 2173.1L790.7 2173.6L792.2 2176L793.7 2174.2L794.2 2174.4L795.2 2175.1L796.7 2176.9L797.2 2177L798.7 2175L800.2 2175.6L801.2 2174.5L802.7 2172.3L803.2 2170.9L803.7 2168.3L804.7 2161.2L805.2 2160.7L806.7 2170.2L807.2 2172.2L808.2 2174.4L808.7 2174.6L809.7 2174.5L812.7 2176.4L813.2 2176.4L814.7 2175.1L816.2 2176.7L817.7 2177L819.2 2176.9L821.2 2177.8L822.7 2176.8L824.2 2174.5L825.7 2176.9L826.2 2176.8L827.2 2176.1L828.7 2176.1L829.2 2175.7L831.2 2171.5L832.2 2172.2L833.2 2174L835.2 2176.4L835.7 2176.6L837.2 2176.3L838.7 2177L839.7 2176.8L841.2 2176.3L842.7 2174.6L843.2 2174.5L844.7 2175.3L848.2 2175.9L849.7 2176.6L851.2 2177.7L851.7 2177.7L852.7 2176.9L853.2 2176.7L854.7 2177.4L856.2 2175.7L857.7 2176L859.2 2175.9L859.7 2176.1L862.7 2178.3L864.2 2175.7L865.7 2175.4L867.2 2177.7L867.7 2177.8L869.2 2176.4L870.7 2175.6L872.2 2177.7L873.7 2175.1L874.2 2175.4L875.7 2177.1L876.7 2177.6L877.2 2177.4L878.7 2175.3L881.7 2177.2L883.2 2176L883.7 2176.3L884.7 2178L885.2 2178.2L886.7 2175L888.2 2177.4L889.7 2176.5L891.2 2177L891.7 2176.9L893.2 2176.2L894.7 2175.9L896.2 2177.5L897.7 2176L899.7 2177L901.2 2177.3L902.7 2176.9L904.2 2177.7L905.7 2177.5L907.2 2176L907.7 2175.9L908.7 2176.6L909.2 2176.7L910.7 2175.6L912.2 2176.2L913.7 2177.6L915.2 2178.4L915.7 2178.4L918.7 2176.4L920.2 2176.7L921.7 2177.4L923.2 2175.9L923.7 2176.2L924.7 2177.9L925.2 2178.4L926.7 2177.9L928.2 2176.6L929.7 2174.6L930.2 2174.9L932.7 2177.4L933.2 2177.5L934.7 2176.1L937.7 2175.8L939.7 2177.2L941.2 2177.4L942.7 2176.5L944.2 2176.3L945.7 2175.2L947.2 2174.7L947.7 2175.1L948.7 2176.9L949.2 2177.4L952.2 2176.7L953.7 2176.9L955.7 2176.2L958.7 2176.4L960.2 2175.3L961.7 2176.7L963.7 2177.8L965.2 2178.2L966.7 2177.7L968.2 2177.7L969.7 2178.5L971.2 2176.3L971.7 2176.1L977.7 2178.2L978.2 2178.1L979.2 2177.7L980.7 2175.4L981.2 2175.3L982.7 2178.8L984.2 2176.5L985.7 2176L988.7 2176.9L989.2 2176.9L990.7 2176L992.2 2177.8L993.7 2176.2L995.2 2175.4L995.7 2175.7L996.7 2177.3L997.2 2177.7L998.7 2177.4L1001.7 2175.7L1003.2 2175.4L1004.7 2175.9L1006.7 2177.4L1008.2 2177.8L1009.7 2176.5L1011.2 2176.3L1012.7 2177.5L1013.2 2177.6L1014.7 2176.6L1016.2 2176.4L1017.7 2175.7L1019.2 2177.4L1019.7 2177.4L1020.7 2176.4L1021.2 2176.3L1022.7 2177.8L1024.2 2177.1L1025.7 2176.8L1028.7 2173.7L1029.2 2173.7L1030.7 2176.4L1032.2 2176.2L1033.7 2175.7L1035.2 2177.7L1035.7 2177.7L1036.7 2176.3L1037.2 2176.2L1038.2 2177.4L1038.7 2177.8L1040.2 2175.1L1041.7 2175.2L1043.2 2176.1L1044.7 2177.2L1045.2 2177.2L1046.7 2175.1L1048.2 2176.4L1049.7 2176.6L1051.2 2176.2L1051.7 2176.5L1052.7 2178"/>
<rect x="79.0" y="2188.9" width="976.0" height="3.6" fill="#3c3c3c"/>
<rect x="109.3" y="2190.7" width="3.4" height="23" fill="#4a4a4a"/>
<rect x="352.6" y="2190.7" width="3.4" height="23" fill="#4a4a4a"/>
<rect x="595.6" y="2190.7" width="3.4" height="23" fill="#4a4a4a"/>
<rect x="838.3" y="2190.7" width="3.4" height="23" fill="#4a4a4a"/>
<text class="tk" x="110.5" y="2261.2" text-anchor="middle">300</text>
<text class="tk" x="355.8" y="2261.2" text-anchor="middle">200</text>
<text class="tk" x="603.5" y="2261.2" text-anchor="middle">100</text>
<text class="tk" x="839.7" y="2261.2" text-anchor="middle">0</text>
<defs><path id="p11" d="M1169.3 1890.7L1252.8 1890.6L1256.8 1890.2L1257.8 1889.7L1258.8 1888.7L1259.3 1888.8L1260.8 1890.1L1261.8 1890.4L1263.8 1890.5L1288.3 1890.6L1301.8 1890.4L1305.3 1889.9L1306.3 1889.4L1306.8 1888.9L1307.8 1886.8L1308.8 1882.9L1309.3 1883.1L1310.3 1887.1L1310.8 1888.3L1311.8 1889.5L1313.8 1890.2L1318.8 1890.5L1332.8 1890.5L1344.8 1890.4L1350.3 1890L1352.3 1889.6L1353.8 1888.9L1354.8 1888L1355.8 1886L1356.8 1880.8L1357.8 1868.6L1358.3 1864.4L1358.8 1868.6L1359.8 1880.8L1360.3 1883.9L1361.3 1886.9L1361.8 1887.7L1362.8 1888.5L1363.8 1888.8L1364.8 1888.7L1365.8 1888L1366.3 1887.3L1366.8 1886L1368.3 1879.2L1369.8 1886.2L1370.3 1887.6L1371.3 1888.9L1372.8 1889.7L1374.8 1890L1377.3 1890.2L1388.3 1890.3L1396.3 1889.9L1400.8 1889.1L1402.3 1888.5L1403.3 1887.9L1404.8 1886.1L1405.8 1883.6L1406.8 1878.3L1407.3 1873.2L1407.8 1864.9L1408.8 1832.8L1409.3 1821.9L1409.8 1832.7L1410.8 1864.6L1411.3 1872.7L1412.3 1880.6L1413.3 1883.8L1413.8 1884.5L1414.3 1884.9L1414.8 1885L1415.3 1884.8L1415.8 1884.2L1416.3 1883.2L1416.8 1881.4L1417.3 1878.4L1417.8 1873.3L1418.8 1853.3L1419.3 1846.6L1420.8 1873.8L1421.3 1879.1L1422.3 1884.4L1423.3 1886.7L1424.3 1887.8L1425.8 1888.7L1428.3 1889.4L1431.3 1889.7L1436.8 1889.8L1442.8 1889.6L1446.8 1889.2L1449.8 1888.4L1451.3 1887.6L1452.8 1886.3L1453.8 1884.9L1454.8 1882.5L1455.8 1878.1L1456.8 1868.8L1457.3 1860L1457.8 1845.4L1458.8 1789.2L1459.3 1770.1L1459.8 1788.9L1460.8 1844.6L1461.3 1858.8L1461.8 1867.4L1462.3 1872.6L1463.3 1877.8L1463.8 1879L1464.3 1879.5L1464.8 1879.3L1465.3 1878.6L1465.8 1877.1L1466.3 1874.6L1466.8 1870.4L1467.3 1863.4L1467.8 1851.6L1468.8 1805.4L1469.3 1789.8L1469.8 1805.7L1470.8 1852.5L1471.3 1864.7L1472.3 1876.7L1473.3 1882L1474.3 1884.7L1475.8 1886.7L1477.8 1888L1480.3 1888.8L1485.3 1889.4L1491.8 1889.3L1496.8 1888.8L1500.3 1887.8L1501.8 1886.9L1502.8 1886L1503.8 1884.5L1504.8 1882.2L1505.8 1877.8L1506.8 1868.7L1507.3 1860L1507.8 1845.7L1509.3 1772.2L1509.8 1790.4L1510.8 1844.4L1511.3 1858.1L1511.8 1866.2L1512.3 1871.1L1512.8 1874L1513.3 1875.6L1513.8 1876.3L1514.3 1876.1L1514.8 1875.3L1515.3 1873.5L1515.8 1870.6L1516.8 1858.6L1517.3 1846.7L1517.8 1826.8L1518.8 1749L1519.3 1722.8L1519.8 1749.3L1520.8 1827.7L1521.3 1848L1522.3 1868.1L1523.3 1876.8L1524.3 1881.2L1525.8 1884.6L1527.3 1886.4L1528.3 1887.1L1529.8 1887.8L1531.8 1888.4L1534.3 1888.8L1540.3 1889.1L1546.3 1888.6L1548.3 1888.2L1550.3 1887.5L1551.8 1886.6L1553.3 1885.1L1554.3 1883.5L1555.3 1880.8L1556.3 1876.1L1557.3 1866.4L1558.3 1843L1558.8 1819.1L1559.8 1747.8L1560.3 1752.4L1561.3 1823.3L1561.8 1844.3L1562.3 1856.6L1562.8 1863.9L1563.3 1868.2L1563.8 1870.6L1564.3 1871.6L1564.8 1871.5L1565.3 1870.2L1565.8 1867.7L1566.3 1863.4L1567.3 1845.1L1567.8 1826.3L1568.3 1794.7L1569.3 1699.8L1569.8 1706.6L1570.8 1803.4L1571.3 1832.5L1572.3 1861L1573.3 1872.8L1573.8 1876.2L1574.8 1880.6L1575.8 1883.1L1577.3 1885.4L1578.8 1886.6L1581.3 1887.8L1585.3 1888.6L1590.8 1888.8L1595.8 1888.3L1599.3 1887.2L1600.8 1886.3L1601.8 1885.4L1603.3 1883.2L1604.3 1880.6L1605.3 1876.2L1606.3 1867.8L1606.8 1860.5L1607.8 1830.7L1608.3 1800.3L1609.3 1709.4L1609.8 1715.5L1610.8 1806.4L1611.3 1833.4L1611.8 1849.5L1612.8 1865.1L1613.3 1868.7L1613.8 1870.7L1614.3 1871.6L1614.8 1871.4L1615.3 1870.1L1615.8 1867.5L1616.3 1863L1616.8 1855.6L1617.3 1843.4L1617.8 1822.8L1618.8 1742L1619.3 1714.8L1619.8 1742.5L1620.8 1824.3L1621.3 1845.5L1622.3 1866.6L1623.3 1875.8L1623.8 1878.5L1624.8 1882L1625.8 1884.1L1627.3 1885.9L1628.8 1887L1630.8 1887.9L1634.8 1888.7L1639.8 1889.1L1645.3 1888.9L1649.3 1888.1L1651.8 1887L1653.3 1885.6L1654.8 1883L1655.8 1879.7L1656.8 1873.4L1657.3 1868L1658.3 1845.6L1658.8 1822.8L1659.8 1754.6L1660.3 1759.1L1661.3 1827.3L1661.8 1847.5L1662.3 1859.5L1662.8 1866.7L1663.3 1871.1L1663.8 1873.7L1664.3 1875.1L1664.8 1875.5L1665.3 1875L1665.8 1873.5L1666.3 1870.6L1666.8 1865.7L1667.3 1857.4L1667.8 1843.3L1668.8 1787.9L1669.3 1769.2L1670.8 1844.7L1671.3 1859.3L1671.8 1868.2L1672.8 1877.6L1673.3 1880.2L1674.3 1883.4L1675.3 1885.3L1676.3 1886.5L1677.8 1887.5L1679.8 1888.4L1683.8 1889.1L1689.3 1889.4L1695.3 1889.2L1699.3 1888.6L1701.8 1887.7L1703.3 1886.7L1704.8 1884.6L1705.8 1882.1L1706.8 1877.2L1707.3 1873L1708.3 1855.6L1708.8 1837.9L1709.8 1785L1710.3 1788.6L1711.3 1841.4L1711.8 1857.1L1712.3 1866.5L1712.8 1872.1L1713.3 1875.5L1713.8 1877.6L1714.3 1878.8L1714.8 1879.3L1715.3 1879.1L1715.8 1878.4L1716.3 1876.9L1716.8 1874.4L1717.3 1870.4L1717.8 1863.8L1718.3 1852.8L1718.8 1834.4L1719.8 1779.2L1720.3 1783.2L1721.3 1839.6L1721.8 1856.6L1722.8 1873.2L1723.3 1877.3L1724.3 1882.1L1724.8 1883.5L1725.8 1885.5L1727.3 1887.1L1729.8 1888.4L1733.3 1889.1L1740.3 1889.5L1744.3 1889.3L1747.3 1889L1749.3 1888.6L1751.3 1887.8L1752.8 1886.9L1753.8 1885.8L1755.3 1882.9L1756.3 1879.1L1757.3 1871.2L1757.8 1863.8L1758.3 1851.9L1758.8 1832.2L1759.8 1773.4L1760.3 1777.3L1761.3 1836.1L1761.8 1853.6L1762.3 1864L1763.3 1874.2L1763.8 1876.5L1764.3 1877.9L1764.8 1878.5L1765.3 1878.4L1765.8 1877.7L1766.3 1876.2L1766.8 1873.6L1767.8 1862.6L1768.3 1851.1L1768.8 1831.9L1769.8 1774.3L1770.3 1778.5L1771.3 1837.4L1771.8 1855.1L1772.8 1872.4L1773.8 1879.7L1774.3 1881.8L1775.3 1884.5L1776.3 1886L1777.3 1887L1778.8 1888L1780.3 1888.6L1783.8 1889.3L1788.3 1889.6L1794.3 1889.7L1798.8 1889.4L1801.3 1888.9L1803.3 1888L1804.8 1886.7L1805.8 1885L1806.8 1881.8L1807.3 1879L1808.3 1867.5L1808.8 1855.8L1809.8 1820.7L1810.3 1823L1811.3 1858.1L1811.8 1868.5L1812.3 1874.7L1813.3 1880.7L1813.8 1882.1L1814.3 1882.8L1814.8 1883.1L1815.3 1882.9L1815.8 1882.1L1816.3 1880.8L1816.8 1878.4L1817.3 1874.4L1817.8 1867.5L1818.8 1840.5L1819.3 1831.4L1820.8 1868.2L1821.3 1875.4L1821.8 1879.7L1822.8 1884.3L1823.8 1886.5L1824.8 1887.6L1825.8 1888.4L1827.3 1889L1828.8 1889.4L1831.8 1889.8L1835.8 1890.1L1847.8 1890.1L1850.8 1890L1853.3 1889.6L1854.8 1889.1L1855.8 1888.4L1856.8 1887.2L1857.3 1886.1L1858.3 1881.5L1858.8 1876.9L1859.8 1863.1L1860.3 1864L1861.3 1877.9L1861.8 1882L1862.3 1884.5L1863.3 1887L1864.3 1887.9L1864.8 1888.2L1865.8 1888.2L1866.8 1887.7L1867.8 1886.3L1868.3 1884.8L1868.8 1882.3L1869.8 1872.5L1870.3 1869.2L1871.8 1882.5L1872.8 1886.7L1873.8 1888.3L1874.8 1889.1L1876.3 1889.7L1878.8 1890.1L1885.3 1890.4L1897.3 1890.5L1903.8 1890.4L1906.8 1890L1908.3 1889.3L1909.3 1888L1910.8 1882.8L1911.3 1883L1912.3 1887L1912.8 1888.2L1913.3 1888.9L1914.3 1889.5L1915.3 1889.8L1916.8 1889.7L1917.8 1889.3L1918.3 1888.9L1918.8 1888.2L1920.3 1884.5L1921.8 1888.3L1922.8 1889.5L1924.8 1890.2L1928.3 1890.5L1944.8 1890.6L1956.8 1890.5L1958.3 1890.3L1959.3 1890L1960.8 1888.7L1961.3 1888.8L1962.3 1889.8L1963.3 1890.3L1965.3 1890.5L1968.8 1890.6L2133.8 1890.7"/></defs><use href="#p11" class="rh"/><use href="#p11" class="r" style="stroke-width:2.9;stroke:#ee5747"/>
<path class="k" style="stroke-width:4.3;stroke:#2a2a2a" d="M1168 2157.2L1169.5 2166L1170 2166.7L1171.5 2164.7L1173 2163.2L1174.5 2167.6L1175 2168.1L1176.5 2165L1178 2165L1178.5 2166.5L1179.5 2171.2L1180 2172.2L1181.5 2160.9L1182 2160.8L1183 2161.9L1183.5 2162.9L1185 2167.8L1186.5 2166L1188 2163.3L1188.5 2162.9L1190 2166L1191.5 2166.1L1192 2166.8L1193.5 2171.5L1195 2163.3L1195.5 2162.8L1197 2164.3L1198.5 2163.7L1200 2170.7L1200.5 2169.9L1202 2157.5L1203.5 2163.6L1204 2164.8L1205 2166.2L1205.5 2165.8L1207 2155.9L1209 2166.1L1210.5 2171.5L1212 2167.2L1212.5 2168.7L1213.5 2173.8L1214 2174L1215.5 2160.5L1217 2165.9L1217.5 2167.1L1218.5 2168L1219 2168L1220.5 2160.7L1221 2162.8L1222 2170.1L1222.5 2171.5L1224 2162.6L1225.5 2172.9L1226 2173.4L1227.5 2168.1L1229 2170.3L1231 2158.1L1232.5 2156.8L1234 2165.3L1234.5 2165.5L1235.5 2162.4L1236 2161.3L1237.5 2165.5L1238 2165L1239 2162.9L1239.5 2163L1241 2168.4L1242.5 2172.3L1243 2172.9L1244 2173.1L1244.5 2172.6L1247.5 2156.1L1248 2155.7L1249.5 2163.7L1251 2166.9L1251.5 2165.3L1252.5 2158.7L1253 2156.7L1254.5 2163.5L1255 2164L1256 2164.4L1256.5 2164.4L1258 2163.8L1259.5 2165.4L1261 2166.2L1261.5 2166.7L1263 2171.3L1264.5 2164L1265 2163L1266.5 2165.3L1268 2160L1268.5 2160.9L1271.5 2173.4L1275 2157.4L1276.5 2165.8L1277 2167.2L1278.5 2169.1L1280 2170.4L1281.5 2169.8L1282 2169.2L1283.5 2166.4L1285 2170L1285.5 2167.8L1286.5 2160.5L1287 2158.8L1288.5 2166L1290 2164.7L1292 2158.3L1293.5 2158L1295 2164.4L1295.5 2165.6L1297 2163.4L1298.5 2161.8L1299 2162.2L1300.5 2166.1L1302 2172.6L1302.5 2170.6L1303.5 2164L1304 2161.8L1305.5 2160.8L1307 2162.7L1309 2169L1310.5 2166L1311 2166.2L1312 2167.3L1312.5 2167.5L1314 2166.3L1315.5 2159.8L1316 2158.7L1317 2158.1L1317.5 2158.1L1319 2161.6L1320.5 2162.3L1321 2162.3L1322.5 2161.8L1324 2164.6L1324.5 2165L1326 2165.4L1327.5 2167.8L1329 2165.6L1329.5 2163.7L1331 2154.5L1333 2161.9L1334.5 2166.4L1336 2167L1337.5 2168.5L1338 2168L1339.5 2163.1L1341 2163L1341.5 2164.6L1342.5 2169.6L1343 2170.7L1344.5 2162.8L1345 2163.7L1346 2166.6L1346.5 2166L1348 2158.2L1349.5 2163.3L1350 2162.3L1351 2158L1351.5 2157.3L1353 2165.8L1353.5 2165.8L1354.5 2164.8L1355 2163.9L1356 2161L1358 2150.2L1358.5 2151.7L1361.5 2168.8L1363 2164L1363.5 2163.4L1365 2164.3L1366.5 2166.3L1368 2167.3L1368.5 2166.4L1370 2156.7L1371.5 2165.1L1372 2166.7L1373 2168L1373.5 2168.2L1375 2162.2L1375.5 2162.2L1377 2164.1L1378.5 2164.9L1380 2161.5L1380.5 2161.2L1382 2162.4L1383.5 2162.8L1385 2160.6L1385.5 2160.4L1387 2163.2L1388.5 2166.8L1389 2167L1390.5 2166.1L1392 2166.6L1393.5 2163.8L1394 2163.9L1395.5 2169L1397 2171.9L1397.5 2170.6L1398.5 2165.2L1399 2163.5L1400.5 2168.9L1402 2171L1402.5 2169.8L1404 2159.2L1405 2160.6L1405.5 2160.9L1406 2158.9L1407 2150.1L1408 2138L1409 2119L1409.5 2118.5L1411 2149.8L1411.5 2155.3L1412.5 2161.3L1413 2161.9L1413.5 2161.9L1415 2161.5L1416 2160.9L1416.5 2161.1L1417 2160.8L1417.5 2159.8L1418.5 2152.5L1419 2150L1419.5 2152.4L1421 2165.7L1421.5 2165L1422.5 2162.3L1423 2163.7L1424 2169.2L1424.5 2170.5L1426 2164.4L1427.5 2160.9L1428 2160.1L1429.5 2158.6L1431 2156.1L1431.5 2159.1L1432.5 2167.9L1433 2170L1434.5 2160.6L1435 2159.8L1436 2158.5L1436.5 2158.4L1437.5 2159L1438 2159.5L1439.5 2167.2L1440 2166.6L1443 2154.9L1444.5 2167.9L1445 2168.5L1446.5 2160.4L1448 2157.4L1448.5 2158.9L1449.5 2163.4L1450 2164.1L1451.5 2157.9L1453 2162.9L1453.5 2162.9L1455.5 2156.9L1456.5 2151.6L1457.5 2138.7L1458 2128.1L1458.5 2113.1L1459.5 2066.6L1460 2053.2L1460.5 2065.3L1461.5 2109L1462 2123.8L1462.5 2135.2L1463.5 2148.9L1464 2150.1L1464.5 2150.4L1465 2150L1466 2146.1L1467 2138.7L1467.5 2133.7L1468 2125.2L1469 2102.2L1469.5 2103.4L1470.5 2131.9L1471 2139.7L1473.5 2158L1474 2158.6L1475 2157.9L1475.5 2157.9L1477 2159.4L1478.5 2156.4L1479 2157.1L1480.5 2162.3L1482 2170.5L1482.5 2170.5L1483.5 2169.3L1484 2167.7L1485.5 2159.4L1487 2163.5L1487.5 2162.7L1488.5 2158.9L1489 2157.8L1492 2165.2L1492.5 2164.6L1494 2157.3L1495.5 2164.7L1497 2169.5L1497.5 2169L1499 2151.5L1500.5 2165.3L1501 2165.8L1502.5 2153.8L1504 2149L1505 2146.7L1506 2142.1L1506.5 2138.8L1507 2132.8L1507.5 2122.4L1509 2036.1L1509.5 2032.3L1510.5 2092.1L1511 2115.8L1511.5 2128.9L1512 2137L1512.5 2142.1L1513 2144.2L1513.5 2144.7L1514 2144.1L1514.5 2142.4L1515 2139.7L1516.5 2124.9L1517.5 2102.3L1519 2012.2L1519.5 2008.1L1520.5 2076.4L1521.5 2120.6L1522.5 2138.1L1523.5 2148.5L1524.5 2156.2L1525 2156.9L1525.5 2157.1L1526 2157.2L1528 2155.6L1529.5 2160.5L1530 2160.3L1531 2158.7L1531.5 2158.8L1533 2163.5L1534.5 2163.9L1535 2163.5L1536.5 2161.3L1538 2162.3L1539.5 2159.3L1540 2158.9L1541.5 2160.4L1543 2153.8L1543.5 2154.4L1545 2161.4L1546.5 2160.8L1548 2163L1548.5 2162.7L1551.5 2151.9L1552 2151.8L1553 2152.9L1553.5 2152.3L1555 2140.8L1556 2127.4L1557 2103.4L1557.5 2083.8L1559 1964.3L1559.5 1959L1561 2076.6L1562 2109L1562.5 2119.1L1563.5 2131L1564 2133L1564.5 2133.6L1565 2133.1L1565.5 2131.2L1566.5 2122.4L1567.5 2105L1568.5 2064.6L1569.5 1984.8L1570 1962.7L1570.5 1989.1L1571.5 2074.3L1572 2100.2L1573 2125.8L1574 2137.6L1577 2161.1L1577.5 2159.9L1578.5 2153L1579 2151.2L1580.5 2157.8L1581 2157.5L1582 2156.1L1582.5 2157.3L1584 2164.9L1585.5 2155.3L1586 2156.3L1587 2161.5L1587.5 2163.1L1589 2161.2L1590.5 2166.3L1591 2166.1L1592.5 2161.2L1594 2161.1L1595.5 2160.5L1596 2159.9L1597.5 2156.6L1599 2156.9L1599.5 2156L1601 2150.8L1602.5 2153.6L1603 2153.2L1603.5 2152.2L1604 2150.9L1604.5 2148.3L1606 2131.9L1607 2113.1L1608 2075.4L1608.5 2041.3L1609.5 1929.8L1610 1898.1L1610.5 1930L1611.5 2041.6L1612 2077.3L1612.5 2101.1L1613 2115L1613.5 2120.3L1614 2122.5L1614.5 2122.5L1615 2121.9L1615.5 2119.5L1616.5 2109.7L1617 2101.8L1617.5 2087.5L1618 2063.2L1619 1989.7L1619.5 1986.5L1621 2089.1L1622 2122.4L1623 2139.3L1623.5 2142.3L1624 2144.1L1624.5 2145.2L1626 2152.2L1626.5 2153.6L1628 2150.4L1629.5 2155.1L1631.5 2162.7L1633 2158L1633.5 2157.3L1634.5 2156.7L1635 2157L1636.5 2163.4L1637 2163.6L1638 2163.4L1638.5 2164.5L1640 2171.7L1641.5 2158.7L1642 2158.6L1645 2170.6L1645.5 2170.3L1646.5 2169L1647 2167.6L1648.5 2160.8L1650 2155.8L1650.5 2155.8L1651.5 2157L1652 2157L1653.5 2151.8L1654.5 2152.8L1655 2152.8L1655.5 2151.2L1656.5 2143.5L1657 2136.8L1658 2106.4L1659.5 2006.1L1660 1984.9L1660.5 2006.8L1661.5 2081.9L1662 2104.5L1662.5 2116.9L1663 2124L1664.5 2137.7L1665 2141.6L1665.5 2143.8L1666 2141.4L1666.5 2137.2L1667 2130.2L1667.5 2118.1L1668.5 2078L1669 2066L1669.5 2076.3L1671 2126.4L1672 2144.1L1672.5 2147.5L1673 2147.8L1673.5 2147.5L1674 2147.6L1675.5 2159.8L1676 2160.2L1677 2158.7L1677.5 2158.6L1679 2161.5L1680.5 2167.9L1681 2167.4L1682.5 2160.6L1684 2158.1L1685.5 2162.2L1686 2163.1L1687.5 2162.9L1689 2157L1689.5 2158.4L1691 2168.5L1692.5 2169.4L1694 2166.2L1694.5 2165.8L1696 2167.7L1697.5 2157L1698 2156.5L1701 2164.3L1701.5 2164L1702.5 2162.5L1703 2159.7L1704.5 2143.6L1706 2153.1L1706.5 2152.2L1707.5 2143.7L1708 2135.5L1708.5 2121.8L1709.5 2078.4L1710 2065.9L1710.5 2076.8L1711.5 2115.9L1712 2128.2L1713 2141.2L1713.5 2145.6L1714.5 2151L1715 2151.6L1715.5 2151L1716 2149.5L1716.5 2145.8L1717 2138.2L1718 2111.7L1719 2074.6L1719.5 2073.4L1720.5 2115.4L1721.5 2144.1L1722 2146.7L1722.5 2147.3L1723 2146.6L1723.5 2148L1726.5 2160.1L1728 2161.5L1728.5 2161.4L1730 2160.3L1731.5 2164.5L1733 2167.5L1733.5 2167.5L1735 2160.8L1736.5 2167.7L1737 2167.5L1738.5 2160.8L1740 2168.1L1740.5 2167.4L1741.5 2163.7L1742 2162.5L1743.5 2162.5L1745 2154.6L1745.5 2155.4L1747 2166.1L1748.5 2167L1750 2163.6L1750.5 2162.9L1752 2163.6L1753.5 2159.6L1754.5 2155.2L1756 2146.8L1757 2138.7L1758 2121.4L1759.5 2063.9L1760 2053.7L1761.5 2106.1L1762 2115L1763 2128.6L1763.5 2133L1765 2144.5L1766 2149.8L1766.5 2151.2L1767 2151.7L1767.5 2148.4L1768.5 2126.6L1769.5 2090.6L1770 2080.9L1770.5 2090.6L1771.5 2129.3L1772.5 2151L1773 2152.1L1773.5 2151.9L1774 2150.9L1777.5 2160.1L1779 2155.2L1779.5 2154.4L1780.5 2153.6L1781 2153.8L1782.5 2160.1L1783 2159.6L1784 2157.7L1784.5 2157.7L1786 2161.2L1787.5 2161.6L1788 2160.8L1789.5 2157.2L1791 2155.2L1792.5 2159.1L1794.5 2166.6L1796 2154.8L1796.5 2155.5L1797.5 2161L1798 2162.2L1801 2146.6L1801.5 2146.2L1803 2151.6L1804.5 2153.4L1805 2152.8L1806 2149.6L1806.5 2146.1L1808 2122.4L1809.5 2106.2L1810 2101.8L1810.5 2100.1L1811 2102.6L1812.5 2118.6L1813.5 2126.5L1814.5 2132L1815 2133L1815.5 2132.3L1816 2130.6L1817 2124L1818.5 2108.6L1819 2107.2L1819.5 2110L1821 2126.5L1822 2135.1L1822.5 2137.7L1825 2146.9L1825.5 2147.3L1826.5 2147.5L1827 2148.3L1828.5 2151.7L1830 2151.5L1831.5 2149.6L1832 2150.1L1833.5 2157.3L1835 2155.2L1835.5 2156.1L1836.5 2159.8L1837 2160.6L1838.5 2150.2L1839 2150.6L1840 2153.2L1840.5 2153.7L1842 2152L1843.5 2147.7L1844 2147.6L1845.5 2149.6L1847 2154.2L1847.5 2153.5L1848.5 2151.1L1849 2151.7L1850.5 2160.2L1852 2152.1L1852.5 2151.3L1853.5 2151.5L1854 2152L1855.5 2157.3L1857 2142.8L1857.5 2140L1858 2140.4L1858.5 2140.2L1859 2139L1860.5 2121L1861 2119.8L1861.5 2122.4L1862.5 2131.5L1863.5 2134.3L1864 2134.6L1864.5 2135.3L1865 2135.4L1865.5 2134.8L1866 2135L1866.5 2136.2L1867 2136.5L1867.5 2135.9L1868.5 2129.8L1869 2128.3L1869.5 2127.3L1870 2128.2L1871.5 2136.8L1872.5 2140.8L1874 2151.1L1874.5 2153.3L1876 2156.5L1877.5 2153.5L1878 2156.5L1879 2165.9L1879.5 2168.2L1881 2160.3L1882.5 2163.3L1883 2162.7L1884.5 2156.6L1886 2161L1886.5 2161.7L1887.5 2162.8L1888 2162.9L1889.5 2159.8L1891 2164.2L1891.5 2163.8L1893 2158.3L1894.5 2161L1895 2160.8L1896 2159.9L1896.5 2159.8L1898 2161L1899.5 2154.3L1900 2154.1L1901.5 2157.5L1903 2154.6L1904.5 2153.9L1905 2154.4L1906.5 2158.4L1908 2150.5L1908.5 2148.6L1910.5 2142.9L1911 2142.4L1911.5 2142.9L1913.5 2152.4L1914 2153.6L1915 2155L1916.5 2150.8L1918 2144.3L1918.5 2142.9L1920 2151.7L1921 2147.8L1921.5 2146.5L1922 2147.3L1923.5 2155.2L1925 2153.2L1925.5 2153.6L1926.5 2155.4L1927 2155.9L1928.5 2154.2L1930 2169.6L1930.5 2171.3L1932 2163.1L1933.5 2165.1L1934 2164.6L1935 2162.5L1935.5 2162L1937 2164.8L1938.5 2164.9L1939 2164.1L1942 2154.4L1942.5 2158.3L1943.5 2171.3L1944 2174.9L1945.5 2164.9L1947 2162.3L1947.5 2162.2L1950.5 2165.1L1952 2169.1L1952.5 2169.9L1954 2168.3L1955.5 2161.7L1956 2160.4L1957 2159.4L1957.5 2159.2L1960.5 2166.8L1961 2167.2L1962.5 2163.1L1964 2163.7L1964.5 2163.1L1966 2158.3L1966.5 2157.6L1967 2156.4L1967.5 2154.2L1968.5 2146.7L1969 2144.9L1970.5 2155.2L1971 2156.9L1972.5 2166.2L1973 2166.1L1974.5 2159.4L1976 2158.5L1977.5 2167.6L1978 2168.8L1979.5 2162.5L1981 2168.2L1981.5 2167.4L1983 2159.7L1984.5 2160.4L1986 2164.8L1986.5 2165.1L1988 2160.2L1989.5 2166L1990 2166.9L1991.5 2167.7L1993 2167.4L1994.5 2165.8L1995 2165.6L1996.5 2166.3L1998 2164.4L1998.5 2164.8L1999.5 2166.9L2000 2167.2L2001.5 2161.6L2002 2161L2003 2160.3L2003.5 2161.1L2005 2167.2L2006.5 2171L2007 2169.5L2008.5 2161.4L2010 2159.7L2013.5 2170.6L2015 2164.3L2016.5 2159.1L2017 2159.2L2018.5 2173L2020 2164.3L2020.5 2163.2L2022 2166.4L2023.5 2168.6L2024 2167.6L2025 2163.9L2025.5 2163.4L2027 2170.7L2029 2162.8L2030.5 2159.1L2033.5 2168L2035.5 2173L2037 2171.1L2037.5 2171.2L2038.5 2172.7L2039 2172.7L2040.5 2158.7L2041 2159.4L2042.5 2166.5L2044 2169.7L2045.5 2170.7L2046 2170.7L2047.5 2169.7L2049 2166.7L2049.5 2167.5L2050.5 2170L2051 2169.3L2052.5 2157.3L2054 2167L2054.5 2168.4L2055.5 2168.5L2056 2168.3L2059 2159.2L2059.5 2158.3L2061 2158.9L2062.5 2166.2L2063 2166.6L2064.5 2163.8L2066 2164.2L2067.5 2162.8L2068 2162.7L2069.5 2163.8L2071 2168.7L2071.5 2169.6L2072.5 2170.4L2073 2170.3L2074.5 2164.4L2076 2169.4L2076.5 2168.9L2078 2158.8L2080 2165.7L2081 2168.6L2081.5 2169.4L2083 2166.6L2084.5 2167.1L2085 2167L2086.5 2165.4L2088 2161.1L2088.5 2162.8L2090 2171.8L2091.5 2173.5L2093 2164.9L2093.5 2163.7L2095 2165.7L2098 2163.2L2098.5 2163.2L2100 2165.7L2101.5 2161.9L2102 2162.5L2103.5 2168.9L2105 2165L2105.5 2165.5L2107 2168.9L2108.5 2170.1L2110 2163.2L2110.5 2162.2L2111.5 2162.3L2112 2162.8L2113.5 2173L2114 2173.1L2115.5 2169.5L2117 2163.7L2118.5 2160.5L2119 2161.4L2120.5 2167.9L2122 2166L2123.5 2170.4L2124 2169.5L2125.5 2153.5L2127 2161.6L2127.5 2162.4L2129 2160.9L2130.5 2161.9L2132 2160.9L2132.5 2160.8L2134 2162.2"/>
<rect x="1162.7" y="2189.9" width="972.3" height="3.6" fill="#3c3c3c"/>
<rect x="1269.0" y="2191.7" width="3.4" height="23" fill="#4a4a4a"/>
<rect x="1512.6" y="2191.7" width="3.4" height="23" fill="#4a4a4a"/>
<rect x="1754.8" y="2191.7" width="3.4" height="23" fill="#4a4a4a"/>
<rect x="1997.6" y="2191.7" width="3.4" height="23" fill="#4a4a4a"/>
<text class="tk" x="1267.0" y="2262.2" text-anchor="middle">300</text>
<text class="tk" x="1513.0" y="2262.2" text-anchor="middle">200</text>
<text class="tk" x="1760.7" y="2262.2" text-anchor="middle">100</text>
<text class="tk" x="1996.0" y="2262.2" text-anchor="middle">0</text>
<text class="title" id="t1" x="531.9" y="89.5" font-size="89" text-anchor="middle" textLength="513.8" lengthAdjust="spacingAndGlyphs">Thiamin•HCl</text>
<text class="title" id="t2" x="1620" y="89.5" font-size="89" text-anchor="middle" textLength="339.2" lengthAdjust="spacingAndGlyphs">Thiamin</text>
<text class="pl" x="20" y="171.5">(a)</text>
<text class="pl" x="20" y="863.5">(b)</text>
<text class="pl" x="26" y="1715">(c)</text>
<text class="pl" x="1203" y="172">(d)</text>
<text class="pl" x="1203" y="864">(e)</text>
<text class="pl" x="1203" y="1715">(f)</text>
<text class="axl" id="l1" x="187" y="1502" font-size="73" letter-spacing="1.0"><tspan font-size="42" dy="-24">13</tspan><tspan dy="24">C Frequency (Hz)</tspan></text>
<text class="axl" id="l2" x="1351.5" y="1502" font-size="73" letter-spacing="1.0"><tspan font-size="42" dy="-24">13</tspan><tspan dy="24">C Frequency (Hz)</tspan></text>
<text class="axl" id="l3" x="89.4" y="2356" font-size="73" letter-spacing="0.65"><tspan font-size="42" dy="-24">13</tspan><tspan dy="24">C Chemical Shift (ppm)</tspan></text>
<text class="axl" id="l4" x="1196" y="2356" font-size="73" letter-spacing="0.65"><tspan font-size="42" dy="-24">13</tspan><tspan dy="24">C Chemical Shift (ppm)</tspan></text>
</svg></body></html>
